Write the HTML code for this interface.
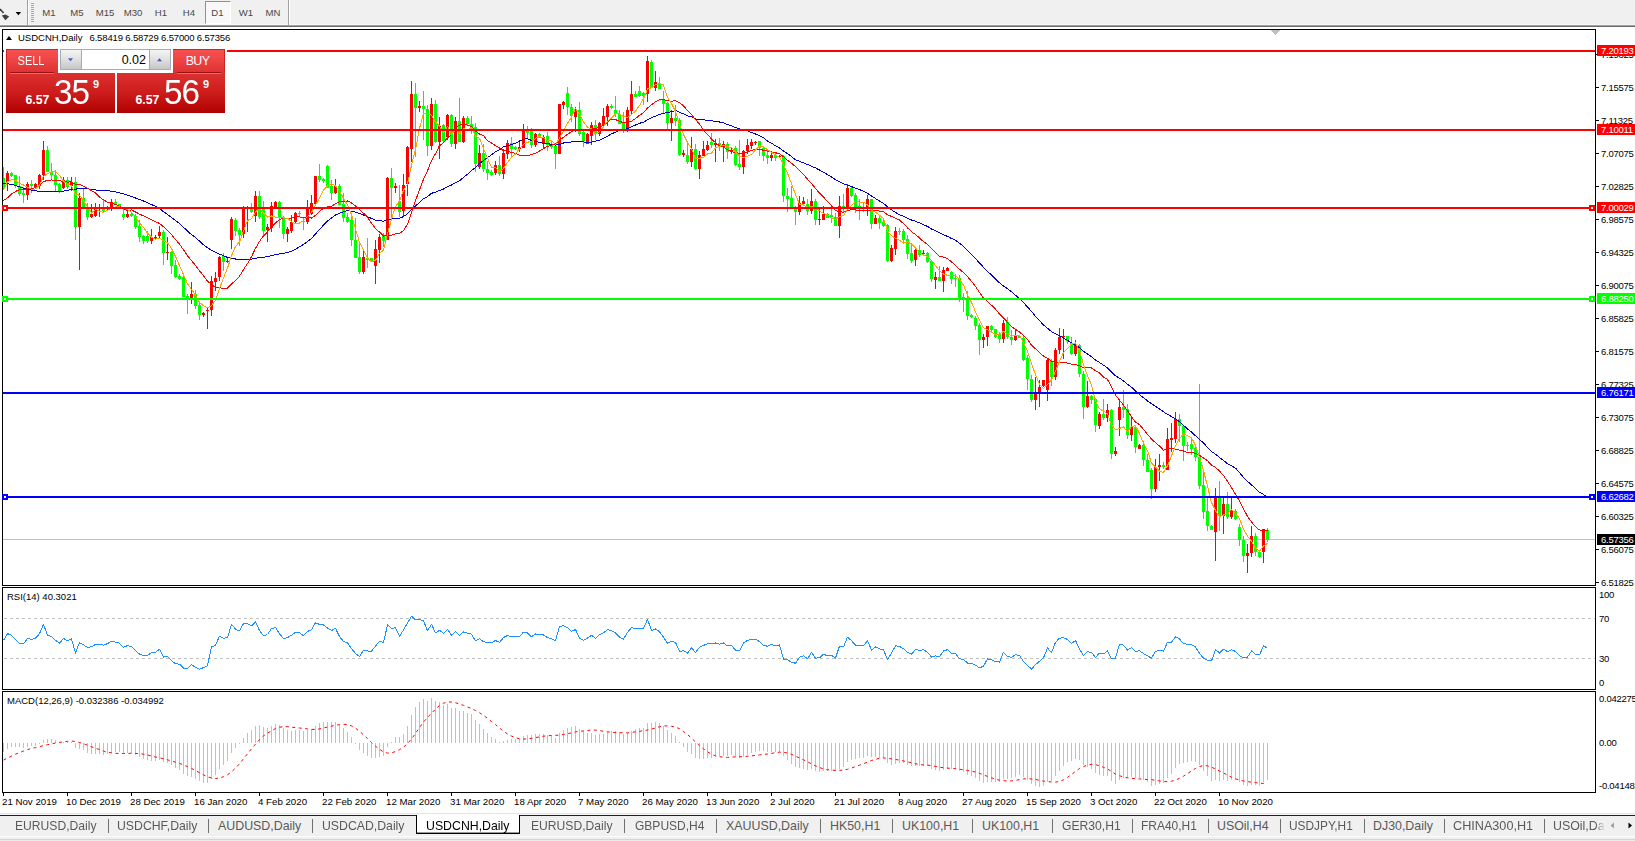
<!DOCTYPE html>
<html><head><meta charset="utf-8"><title>USDCNH,Daily</title>
<style>
html,body{margin:0;padding:0;background:#fff;}
body{width:1635px;height:841px;overflow:hidden;position:relative;font-family:"Liberation Sans", sans-serif;}
.t{position:absolute;white-space:nowrap;line-height:1;font-family:"Liberation Sans", sans-serif;}
.abs{position:absolute;}
</style></head><body>

<div class="abs" style="left:0;top:0;width:1635px;height:25px;background:#f0f0f0"></div>
<div class="abs" style="left:0;top:25px;width:1635px;height:1px;background:#a0a0a0"></div>
<div class="abs" style="left:0;top:26px;width:1635px;height:1px;background:#808080"></div>
<div class="abs" style="left:0;top:813px;width:1635px;height:28px;background:#f0f0f0"></div>
<svg width="1635" height="841" viewBox="0 0 1635 841" style="position:absolute;left:0;top:0"><defs><clipPath id="cm"><rect x="3" y="30" width="1592" height="555"/></clipPath><clipPath id="cr"><rect x="3" y="588" width="1592" height="101"/></clipPath><clipPath id="cd"><rect x="3" y="692" width="1592" height="100"/></clipPath></defs><g shape-rendering="crispEdges"><rect x="3" y="539" width="1592" height="1" fill="#c0c0c0"/><rect x="3" y="50" width="1592" height="2" fill="#ff0000"/><rect x="3" y="129" width="1592" height="2" fill="#ff0000"/><rect x="3" y="207" width="1592" height="2" fill="#ff0000"/><rect x="3" y="298" width="1592" height="2" fill="#00ff00"/><rect x="3" y="392" width="1592" height="2" fill="#0000ff"/><rect x="3" y="496" width="1592" height="2" fill="#0000ff"/></g><g clip-path="url(#cm)" shape-rendering="crispEdges"><rect x="3" y="167" width="1" height="22" fill="#00ff00"/><rect x="2" y="178" width="3" height="10" fill="#00ff00"/><rect x="7" y="171" width="1" height="20" fill="#ff0000"/><rect x="6" y="173" width="3" height="9" fill="#ff0000"/><rect x="11" y="172" width="1" height="5" fill="#00ff00"/><rect x="10" y="173" width="3" height="3" fill="#00ff00"/><rect x="15" y="175" width="1" height="13" fill="#00ff00"/><rect x="14" y="175" width="3" height="10" fill="#00ff00"/><rect x="19" y="176" width="1" height="20" fill="#00ff00"/><rect x="18" y="186" width="3" height="8" fill="#00ff00"/><rect x="23" y="187" width="1" height="16" fill="#00ff00"/><rect x="22" y="193" width="3" height="2" fill="#00ff00"/><rect x="27" y="182" width="1" height="18" fill="#ff0000"/><rect x="26" y="184" width="3" height="11" fill="#ff0000"/><rect x="31" y="180" width="1" height="13" fill="#00ff00"/><rect x="30" y="184" width="3" height="2" fill="#00ff00"/><rect x="35" y="183" width="1" height="5" fill="#ff0000"/><rect x="34" y="184" width="3" height="4" fill="#ff0000"/><rect x="39" y="174" width="1" height="15" fill="#ff0000"/><rect x="38" y="175" width="3" height="10" fill="#ff0000"/><rect x="43" y="141" width="1" height="39" fill="#ff0000"/><rect x="42" y="150" width="3" height="25" fill="#ff0000"/><rect x="47" y="146" width="1" height="26" fill="#00ff00"/><rect x="46" y="150" width="3" height="22" fill="#00ff00"/><rect x="51" y="163" width="1" height="16" fill="#00ff00"/><rect x="50" y="172" width="3" height="3" fill="#00ff00"/><rect x="55" y="170" width="1" height="22" fill="#00ff00"/><rect x="54" y="175" width="3" height="10" fill="#00ff00"/><rect x="59" y="183" width="1" height="10" fill="#00ff00"/><rect x="58" y="184" width="3" height="8" fill="#00ff00"/><rect x="63" y="177" width="1" height="12" fill="#ff0000"/><rect x="62" y="180" width="3" height="8" fill="#ff0000"/><rect x="67" y="177" width="1" height="12" fill="#00ff00"/><rect x="66" y="180" width="3" height="7" fill="#00ff00"/><rect x="71" y="177" width="1" height="14" fill="#ff0000"/><rect x="70" y="182" width="3" height="4" fill="#ff0000"/><rect x="75" y="177" width="1" height="63" fill="#00ff00"/><rect x="74" y="182" width="3" height="45" fill="#00ff00"/><rect x="79" y="193" width="1" height="77" fill="#ff0000"/><rect x="78" y="198" width="3" height="29" fill="#ff0000"/><rect x="83" y="189" width="1" height="18" fill="#00ff00"/><rect x="82" y="198" width="3" height="9" fill="#00ff00"/><rect x="87" y="203" width="1" height="17" fill="#00ff00"/><rect x="86" y="209" width="3" height="8" fill="#00ff00"/><rect x="91" y="204" width="1" height="14" fill="#ff0000"/><rect x="90" y="214" width="3" height="3" fill="#ff0000"/><rect x="95" y="203" width="1" height="14" fill="#ff0000"/><rect x="94" y="209" width="3" height="7" fill="#ff0000"/><rect x="99" y="204" width="1" height="13" fill="#ff0000"/><rect x="98" y="208" width="3" height="1" fill="#ff0000"/><rect x="103" y="200" width="1" height="13" fill="#00ff00"/><rect x="102" y="209" width="3" height="2" fill="#00ff00"/><rect x="107" y="206" width="1" height="4" fill="#ff0000"/><rect x="106" y="208" width="3" height="1" fill="#ff0000"/><rect x="111" y="199" width="1" height="12" fill="#ff0000"/><rect x="110" y="202" width="3" height="6" fill="#ff0000"/><rect x="115" y="199" width="1" height="6" fill="#00ff00"/><rect x="114" y="202" width="3" height="2" fill="#00ff00"/><rect x="119" y="204" width="1" height="5" fill="#00ff00"/><rect x="118" y="204" width="3" height="3" fill="#00ff00"/><rect x="123" y="209" width="1" height="11" fill="#00ff00"/><rect x="122" y="214" width="3" height="3" fill="#00ff00"/><rect x="127" y="210" width="1" height="8" fill="#ff0000"/><rect x="126" y="214" width="3" height="3" fill="#ff0000"/><rect x="131" y="213" width="1" height="4" fill="#00ff00"/><rect x="130" y="214" width="3" height="2" fill="#00ff00"/><rect x="135" y="214" width="1" height="15" fill="#00ff00"/><rect x="134" y="216" width="3" height="11" fill="#00ff00"/><rect x="139" y="220" width="1" height="22" fill="#00ff00"/><rect x="138" y="226" width="3" height="11" fill="#00ff00"/><rect x="143" y="235" width="1" height="9" fill="#00ff00"/><rect x="142" y="236" width="3" height="5" fill="#00ff00"/><rect x="147" y="231" width="1" height="12" fill="#00ff00"/><rect x="146" y="236" width="3" height="5" fill="#00ff00"/><rect x="151" y="229" width="1" height="15" fill="#ff0000"/><rect x="150" y="237" width="3" height="4" fill="#ff0000"/><rect x="155" y="235" width="1" height="4" fill="#ff0000"/><rect x="154" y="237" width="3" height="1" fill="#ff0000"/><rect x="159" y="226" width="1" height="12" fill="#ff0000"/><rect x="158" y="232" width="3" height="4" fill="#ff0000"/><rect x="163" y="230" width="1" height="35" fill="#00ff00"/><rect x="162" y="232" width="3" height="21" fill="#00ff00"/><rect x="167" y="237" width="1" height="23" fill="#ff0000"/><rect x="166" y="252" width="3" height="1" fill="#ff0000"/><rect x="171" y="251" width="1" height="23" fill="#00ff00"/><rect x="170" y="252" width="3" height="14" fill="#00ff00"/><rect x="175" y="260" width="1" height="18" fill="#00ff00"/><rect x="174" y="265" width="3" height="12" fill="#00ff00"/><rect x="179" y="274" width="1" height="6" fill="#00ff00"/><rect x="178" y="276" width="3" height="3" fill="#00ff00"/><rect x="183" y="275" width="1" height="22" fill="#00ff00"/><rect x="182" y="277" width="3" height="20" fill="#00ff00"/><rect x="187" y="294" width="1" height="20" fill="#00ff00"/><rect x="186" y="296" width="3" height="3" fill="#00ff00"/><rect x="191" y="282" width="1" height="22" fill="#ff0000"/><rect x="190" y="294" width="3" height="6" fill="#ff0000"/><rect x="195" y="290" width="1" height="19" fill="#00ff00"/><rect x="194" y="294" width="3" height="12" fill="#00ff00"/><rect x="199" y="303" width="1" height="17" fill="#00ff00"/><rect x="198" y="305" width="3" height="10" fill="#00ff00"/><rect x="203" y="312" width="1" height="5" fill="#ff0000"/><rect x="202" y="313" width="3" height="2" fill="#ff0000"/><rect x="207" y="307" width="1" height="22" fill="#ff0000"/><rect x="206" y="310" width="3" height="1" fill="#ff0000"/><rect x="211" y="276" width="1" height="40" fill="#ff0000"/><rect x="210" y="281" width="3" height="29" fill="#ff0000"/><rect x="215" y="272" width="1" height="19" fill="#ff0000"/><rect x="214" y="278" width="3" height="4" fill="#ff0000"/><rect x="219" y="256" width="1" height="25" fill="#ff0000"/><rect x="218" y="257" width="3" height="20" fill="#ff0000"/><rect x="223" y="253" width="1" height="18" fill="#00ff00"/><rect x="222" y="256" width="3" height="6" fill="#00ff00"/><rect x="227" y="258" width="1" height="5" fill="#ff0000"/><rect x="226" y="261" width="3" height="1" fill="#ff0000"/><rect x="231" y="217" width="1" height="32" fill="#ff0000"/><rect x="230" y="219" width="3" height="21" fill="#ff0000"/><rect x="235" y="218" width="1" height="18" fill="#00ff00"/><rect x="234" y="220" width="3" height="11" fill="#00ff00"/><rect x="239" y="228" width="1" height="18" fill="#00ff00"/><rect x="238" y="230" width="3" height="5" fill="#00ff00"/><rect x="243" y="206" width="1" height="32" fill="#ff0000"/><rect x="242" y="207" width="3" height="27" fill="#ff0000"/><rect x="247" y="206" width="1" height="26" fill="#ff0000"/><rect x="246" y="208" width="3" height="1" fill="#ff0000"/><rect x="251" y="203" width="1" height="10" fill="#00ff00"/><rect x="250" y="209" width="3" height="3" fill="#00ff00"/><rect x="255" y="191" width="1" height="31" fill="#ff0000"/><rect x="254" y="196" width="3" height="20" fill="#ff0000"/><rect x="259" y="191" width="1" height="28" fill="#00ff00"/><rect x="258" y="196" width="3" height="21" fill="#00ff00"/><rect x="263" y="201" width="1" height="34" fill="#00ff00"/><rect x="262" y="208" width="3" height="23" fill="#00ff00"/><rect x="267" y="224" width="1" height="18" fill="#ff0000"/><rect x="266" y="227" width="3" height="3" fill="#ff0000"/><rect x="271" y="202" width="1" height="30" fill="#ff0000"/><rect x="270" y="206" width="3" height="22" fill="#ff0000"/><rect x="275" y="201" width="1" height="7" fill="#ff0000"/><rect x="274" y="202" width="3" height="5" fill="#ff0000"/><rect x="279" y="201" width="1" height="27" fill="#00ff00"/><rect x="278" y="202" width="3" height="16" fill="#00ff00"/><rect x="283" y="216" width="1" height="23" fill="#00ff00"/><rect x="282" y="217" width="3" height="17" fill="#00ff00"/><rect x="287" y="227" width="1" height="15" fill="#ff0000"/><rect x="286" y="229" width="3" height="5" fill="#ff0000"/><rect x="291" y="215" width="1" height="18" fill="#ff0000"/><rect x="290" y="222" width="3" height="9" fill="#ff0000"/><rect x="295" y="212" width="1" height="11" fill="#ff0000"/><rect x="294" y="213" width="3" height="9" fill="#ff0000"/><rect x="299" y="211" width="1" height="5" fill="#00ff00"/><rect x="298" y="213" width="3" height="1" fill="#00ff00"/><rect x="303" y="218" width="1" height="12" fill="#00ff00"/><rect x="302" y="221" width="3" height="1" fill="#00ff00"/><rect x="307" y="200" width="1" height="24" fill="#ff0000"/><rect x="306" y="208" width="3" height="14" fill="#ff0000"/><rect x="311" y="195" width="1" height="20" fill="#ff0000"/><rect x="310" y="203" width="3" height="11" fill="#ff0000"/><rect x="315" y="176" width="1" height="29" fill="#ff0000"/><rect x="314" y="176" width="3" height="28" fill="#ff0000"/><rect x="319" y="164" width="1" height="18" fill="#00ff00"/><rect x="318" y="176" width="3" height="4" fill="#00ff00"/><rect x="323" y="178" width="1" height="5" fill="#00ff00"/><rect x="322" y="179" width="3" height="2" fill="#00ff00"/><rect x="327" y="165" width="1" height="23" fill="#00ff00"/><rect x="326" y="166" width="3" height="22" fill="#00ff00"/><rect x="331" y="180" width="1" height="20" fill="#00ff00"/><rect x="330" y="186" width="3" height="7" fill="#00ff00"/><rect x="335" y="179" width="1" height="15" fill="#ff0000"/><rect x="334" y="186" width="3" height="7" fill="#ff0000"/><rect x="339" y="184" width="1" height="21" fill="#00ff00"/><rect x="338" y="186" width="3" height="19" fill="#00ff00"/><rect x="343" y="193" width="1" height="29" fill="#00ff00"/><rect x="342" y="204" width="3" height="14" fill="#00ff00"/><rect x="347" y="213" width="1" height="10" fill="#00ff00"/><rect x="346" y="217" width="3" height="5" fill="#00ff00"/><rect x="351" y="216" width="1" height="30" fill="#00ff00"/><rect x="350" y="220" width="3" height="20" fill="#00ff00"/><rect x="355" y="218" width="1" height="40" fill="#00ff00"/><rect x="354" y="240" width="3" height="18" fill="#00ff00"/><rect x="359" y="244" width="1" height="30" fill="#00ff00"/><rect x="358" y="257" width="3" height="15" fill="#00ff00"/><rect x="363" y="251" width="1" height="23" fill="#ff0000"/><rect x="362" y="257" width="3" height="15" fill="#ff0000"/><rect x="367" y="238" width="1" height="30" fill="#00ff00"/><rect x="366" y="258" width="3" height="2" fill="#00ff00"/><rect x="371" y="258" width="1" height="4" fill="#00ff00"/><rect x="370" y="258" width="3" height="3" fill="#00ff00"/><rect x="375" y="240" width="1" height="44" fill="#ff0000"/><rect x="374" y="249" width="3" height="17" fill="#ff0000"/><rect x="379" y="234" width="1" height="29" fill="#ff0000"/><rect x="378" y="237" width="3" height="13" fill="#ff0000"/><rect x="383" y="233" width="1" height="14" fill="#00ff00"/><rect x="382" y="236" width="3" height="5" fill="#00ff00"/><rect x="387" y="177" width="1" height="63" fill="#ff0000"/><rect x="386" y="178" width="3" height="62" fill="#ff0000"/><rect x="391" y="168" width="1" height="49" fill="#00ff00"/><rect x="390" y="178" width="3" height="10" fill="#00ff00"/><rect x="395" y="183" width="1" height="10" fill="#ff0000"/><rect x="394" y="186" width="3" height="2" fill="#ff0000"/><rect x="399" y="185" width="1" height="32" fill="#00ff00"/><rect x="398" y="201" width="3" height="11" fill="#00ff00"/><rect x="403" y="174" width="1" height="42" fill="#ff0000"/><rect x="402" y="185" width="3" height="26" fill="#ff0000"/><rect x="407" y="146" width="1" height="50" fill="#ff0000"/><rect x="406" y="147" width="3" height="37" fill="#ff0000"/><rect x="411" y="81" width="1" height="81" fill="#ff0000"/><rect x="410" y="94" width="3" height="55" fill="#ff0000"/><rect x="415" y="83" width="1" height="74" fill="#00ff00"/><rect x="414" y="94" width="3" height="14" fill="#00ff00"/><rect x="419" y="101" width="1" height="11" fill="#ff0000"/><rect x="418" y="106" width="3" height="2" fill="#ff0000"/><rect x="423" y="91" width="1" height="49" fill="#00ff00"/><rect x="422" y="106" width="3" height="3" fill="#00ff00"/><rect x="427" y="105" width="1" height="51" fill="#00ff00"/><rect x="426" y="109" width="3" height="37" fill="#00ff00"/><rect x="431" y="98" width="1" height="52" fill="#ff0000"/><rect x="430" y="104" width="3" height="42" fill="#ff0000"/><rect x="435" y="100" width="1" height="43" fill="#00ff00"/><rect x="434" y="104" width="3" height="38" fill="#00ff00"/><rect x="439" y="117" width="1" height="42" fill="#ff0000"/><rect x="438" y="126" width="3" height="16" fill="#ff0000"/><rect x="443" y="124" width="1" height="18" fill="#00ff00"/><rect x="442" y="125" width="3" height="16" fill="#00ff00"/><rect x="447" y="114" width="1" height="26" fill="#ff0000"/><rect x="446" y="115" width="3" height="22" fill="#ff0000"/><rect x="451" y="114" width="1" height="33" fill="#00ff00"/><rect x="450" y="115" width="3" height="29" fill="#00ff00"/><rect x="455" y="117" width="1" height="32" fill="#ff0000"/><rect x="454" y="121" width="3" height="23" fill="#ff0000"/><rect x="459" y="98" width="1" height="44" fill="#00ff00"/><rect x="458" y="121" width="3" height="21" fill="#00ff00"/><rect x="463" y="116" width="1" height="27" fill="#ff0000"/><rect x="462" y="118" width="3" height="24" fill="#ff0000"/><rect x="467" y="116" width="1" height="9" fill="#00ff00"/><rect x="466" y="118" width="3" height="6" fill="#00ff00"/><rect x="471" y="116" width="1" height="18" fill="#00ff00"/><rect x="470" y="124" width="3" height="5" fill="#00ff00"/><rect x="475" y="123" width="1" height="49" fill="#00ff00"/><rect x="474" y="127" width="3" height="37" fill="#00ff00"/><rect x="479" y="145" width="1" height="24" fill="#ff0000"/><rect x="478" y="153" width="3" height="14" fill="#ff0000"/><rect x="483" y="144" width="1" height="28" fill="#00ff00"/><rect x="482" y="153" width="3" height="16" fill="#00ff00"/><rect x="487" y="161" width="1" height="19" fill="#00ff00"/><rect x="486" y="169" width="3" height="4" fill="#00ff00"/><rect x="491" y="170" width="1" height="6" fill="#00ff00"/><rect x="490" y="172" width="3" height="3" fill="#00ff00"/><rect x="495" y="161" width="1" height="14" fill="#ff0000"/><rect x="494" y="165" width="3" height="8" fill="#ff0000"/><rect x="499" y="156" width="1" height="20" fill="#00ff00"/><rect x="498" y="165" width="3" height="9" fill="#00ff00"/><rect x="503" y="149" width="1" height="30" fill="#ff0000"/><rect x="502" y="153" width="3" height="21" fill="#ff0000"/><rect x="507" y="140" width="1" height="19" fill="#ff0000"/><rect x="506" y="143" width="3" height="11" fill="#ff0000"/><rect x="511" y="137" width="1" height="19" fill="#00ff00"/><rect x="510" y="143" width="3" height="6" fill="#00ff00"/><rect x="515" y="146" width="1" height="4" fill="#00ff00"/><rect x="514" y="147" width="3" height="2" fill="#00ff00"/><rect x="519" y="140" width="1" height="12" fill="#ff0000"/><rect x="518" y="147" width="3" height="2" fill="#ff0000"/><rect x="523" y="124" width="1" height="24" fill="#ff0000"/><rect x="522" y="130" width="3" height="18" fill="#ff0000"/><rect x="527" y="126" width="1" height="13" fill="#00ff00"/><rect x="526" y="130" width="3" height="3" fill="#00ff00"/><rect x="531" y="128" width="1" height="20" fill="#00ff00"/><rect x="530" y="130" width="3" height="15" fill="#00ff00"/><rect x="535" y="133" width="1" height="14" fill="#ff0000"/><rect x="534" y="134" width="3" height="11" fill="#ff0000"/><rect x="539" y="133" width="1" height="5" fill="#00ff00"/><rect x="538" y="134" width="3" height="4" fill="#00ff00"/><rect x="543" y="135" width="1" height="14" fill="#ff0000"/><rect x="542" y="137" width="3" height="6" fill="#ff0000"/><rect x="547" y="132" width="1" height="19" fill="#00ff00"/><rect x="546" y="136" width="3" height="9" fill="#00ff00"/><rect x="551" y="142" width="1" height="7" fill="#00ff00"/><rect x="550" y="144" width="3" height="3" fill="#00ff00"/><rect x="555" y="143" width="1" height="26" fill="#00ff00"/><rect x="554" y="146" width="3" height="8" fill="#00ff00"/><rect x="559" y="104" width="1" height="50" fill="#ff0000"/><rect x="558" y="104" width="3" height="50" fill="#ff0000"/><rect x="563" y="101" width="1" height="8" fill="#ff0000"/><rect x="562" y="102" width="3" height="3" fill="#ff0000"/><rect x="567" y="87" width="1" height="28" fill="#00ff00"/><rect x="566" y="93" width="3" height="14" fill="#00ff00"/><rect x="571" y="104" width="1" height="18" fill="#00ff00"/><rect x="570" y="107" width="3" height="9" fill="#00ff00"/><rect x="575" y="107" width="1" height="25" fill="#ff0000"/><rect x="574" y="109" width="3" height="8" fill="#ff0000"/><rect x="579" y="102" width="1" height="34" fill="#00ff00"/><rect x="578" y="110" width="3" height="24" fill="#00ff00"/><rect x="583" y="131" width="1" height="16" fill="#00ff00"/><rect x="582" y="132" width="3" height="9" fill="#00ff00"/><rect x="587" y="133" width="1" height="11" fill="#ff0000"/><rect x="586" y="134" width="3" height="10" fill="#ff0000"/><rect x="591" y="122" width="1" height="23" fill="#ff0000"/><rect x="590" y="125" width="3" height="11" fill="#ff0000"/><rect x="595" y="120" width="1" height="20" fill="#00ff00"/><rect x="594" y="125" width="3" height="9" fill="#00ff00"/><rect x="599" y="122" width="1" height="14" fill="#ff0000"/><rect x="598" y="123" width="3" height="11" fill="#ff0000"/><rect x="603" y="108" width="1" height="18" fill="#ff0000"/><rect x="602" y="116" width="3" height="9" fill="#ff0000"/><rect x="607" y="104" width="1" height="22" fill="#ff0000"/><rect x="606" y="106" width="3" height="11" fill="#ff0000"/><rect x="611" y="104" width="1" height="5" fill="#00ff00"/><rect x="610" y="106" width="3" height="2" fill="#00ff00"/><rect x="615" y="96" width="1" height="21" fill="#00ff00"/><rect x="614" y="110" width="3" height="4" fill="#00ff00"/><rect x="619" y="110" width="1" height="14" fill="#00ff00"/><rect x="618" y="114" width="3" height="10" fill="#00ff00"/><rect x="623" y="112" width="1" height="21" fill="#00ff00"/><rect x="622" y="123" width="3" height="6" fill="#00ff00"/><rect x="627" y="107" width="1" height="25" fill="#ff0000"/><rect x="626" y="110" width="3" height="19" fill="#ff0000"/><rect x="631" y="81" width="1" height="33" fill="#ff0000"/><rect x="630" y="94" width="3" height="17" fill="#ff0000"/><rect x="635" y="91" width="1" height="6" fill="#00ff00"/><rect x="634" y="94" width="3" height="3" fill="#00ff00"/><rect x="639" y="86" width="1" height="11" fill="#00ff00"/><rect x="638" y="91" width="3" height="5" fill="#00ff00"/><rect x="643" y="92" width="1" height="13" fill="#00ff00"/><rect x="642" y="93" width="3" height="3" fill="#00ff00"/><rect x="647" y="56" width="1" height="46" fill="#ff0000"/><rect x="646" y="61" width="3" height="33" fill="#ff0000"/><rect x="651" y="60" width="1" height="28" fill="#00ff00"/><rect x="650" y="62" width="3" height="26" fill="#00ff00"/><rect x="655" y="71" width="1" height="20" fill="#ff0000"/><rect x="654" y="82" width="3" height="6" fill="#ff0000"/><rect x="659" y="77" width="1" height="12" fill="#00ff00"/><rect x="658" y="83" width="3" height="6" fill="#00ff00"/><rect x="663" y="91" width="1" height="22" fill="#00ff00"/><rect x="662" y="100" width="3" height="4" fill="#00ff00"/><rect x="667" y="102" width="1" height="27" fill="#00ff00"/><rect x="666" y="103" width="3" height="20" fill="#00ff00"/><rect x="671" y="110" width="1" height="31" fill="#ff0000"/><rect x="670" y="118" width="3" height="5" fill="#ff0000"/><rect x="675" y="105" width="1" height="21" fill="#00ff00"/><rect x="674" y="118" width="3" height="3" fill="#00ff00"/><rect x="679" y="118" width="1" height="38" fill="#00ff00"/><rect x="678" y="120" width="3" height="35" fill="#00ff00"/><rect x="683" y="150" width="1" height="7" fill="#ff0000"/><rect x="682" y="153" width="3" height="2" fill="#ff0000"/><rect x="687" y="142" width="1" height="22" fill="#00ff00"/><rect x="686" y="155" width="3" height="7" fill="#00ff00"/><rect x="691" y="137" width="1" height="30" fill="#ff0000"/><rect x="690" y="149" width="3" height="13" fill="#ff0000"/><rect x="695" y="144" width="1" height="26" fill="#00ff00"/><rect x="694" y="149" width="3" height="20" fill="#00ff00"/><rect x="699" y="151" width="1" height="28" fill="#ff0000"/><rect x="698" y="155" width="3" height="14" fill="#ff0000"/><rect x="703" y="141" width="1" height="15" fill="#ff0000"/><rect x="702" y="149" width="3" height="7" fill="#ff0000"/><rect x="707" y="141" width="1" height="10" fill="#ff0000"/><rect x="706" y="145" width="3" height="5" fill="#ff0000"/><rect x="711" y="133" width="1" height="15" fill="#00ff00"/><rect x="710" y="142" width="3" height="3" fill="#00ff00"/><rect x="715" y="139" width="1" height="23" fill="#ff0000"/><rect x="714" y="143" width="3" height="2" fill="#ff0000"/><rect x="719" y="138" width="1" height="13" fill="#00ff00"/><rect x="718" y="143" width="3" height="4" fill="#00ff00"/><rect x="723" y="141" width="1" height="21" fill="#ff0000"/><rect x="722" y="144" width="3" height="3" fill="#ff0000"/><rect x="727" y="142" width="1" height="17" fill="#00ff00"/><rect x="726" y="144" width="3" height="8" fill="#00ff00"/><rect x="731" y="148" width="1" height="6" fill="#ff0000"/><rect x="730" y="150" width="3" height="2" fill="#ff0000"/><rect x="735" y="146" width="1" height="20" fill="#00ff00"/><rect x="734" y="148" width="3" height="17" fill="#00ff00"/><rect x="739" y="140" width="1" height="30" fill="#00ff00"/><rect x="738" y="164" width="3" height="3" fill="#00ff00"/><rect x="743" y="150" width="1" height="24" fill="#ff0000"/><rect x="742" y="151" width="3" height="16" fill="#ff0000"/><rect x="747" y="139" width="1" height="15" fill="#ff0000"/><rect x="746" y="145" width="3" height="6" fill="#ff0000"/><rect x="751" y="139" width="1" height="10" fill="#ff0000"/><rect x="750" y="142" width="3" height="4" fill="#ff0000"/><rect x="755" y="141" width="1" height="4" fill="#ff0000"/><rect x="754" y="142" width="3" height="1" fill="#ff0000"/><rect x="759" y="141" width="1" height="15" fill="#00ff00"/><rect x="758" y="141" width="3" height="7" fill="#00ff00"/><rect x="763" y="146" width="1" height="15" fill="#00ff00"/><rect x="762" y="148" width="3" height="8" fill="#00ff00"/><rect x="767" y="149" width="1" height="15" fill="#00ff00"/><rect x="766" y="155" width="3" height="3" fill="#00ff00"/><rect x="771" y="153" width="1" height="8" fill="#ff0000"/><rect x="770" y="155" width="3" height="3" fill="#ff0000"/><rect x="775" y="153" width="1" height="8" fill="#00ff00"/><rect x="774" y="155" width="3" height="3" fill="#00ff00"/><rect x="779" y="155" width="1" height="3" fill="#ff0000"/><rect x="778" y="156" width="3" height="1" fill="#ff0000"/><rect x="783" y="155" width="1" height="47" fill="#00ff00"/><rect x="782" y="156" width="3" height="40" fill="#00ff00"/><rect x="787" y="188" width="1" height="24" fill="#00ff00"/><rect x="786" y="196" width="3" height="3" fill="#00ff00"/><rect x="791" y="186" width="1" height="22" fill="#00ff00"/><rect x="790" y="198" width="3" height="9" fill="#00ff00"/><rect x="795" y="206" width="1" height="19" fill="#00ff00"/><rect x="794" y="209" width="3" height="3" fill="#00ff00"/><rect x="799" y="196" width="1" height="19" fill="#ff0000"/><rect x="798" y="203" width="3" height="9" fill="#ff0000"/><rect x="803" y="197" width="1" height="8" fill="#ff0000"/><rect x="802" y="201" width="3" height="3" fill="#ff0000"/><rect x="807" y="199" width="1" height="16" fill="#00ff00"/><rect x="806" y="204" width="3" height="7" fill="#00ff00"/><rect x="811" y="189" width="1" height="25" fill="#ff0000"/><rect x="810" y="201" width="3" height="10" fill="#ff0000"/><rect x="815" y="199" width="1" height="26" fill="#00ff00"/><rect x="814" y="201" width="3" height="19" fill="#00ff00"/><rect x="819" y="208" width="1" height="17" fill="#ff0000"/><rect x="818" y="219" width="3" height="1" fill="#ff0000"/><rect x="823" y="206" width="1" height="14" fill="#ff0000"/><rect x="822" y="214" width="3" height="6" fill="#ff0000"/><rect x="827" y="213" width="1" height="5" fill="#00ff00"/><rect x="826" y="214" width="3" height="4" fill="#00ff00"/><rect x="831" y="209" width="1" height="14" fill="#00ff00"/><rect x="830" y="215" width="3" height="2" fill="#00ff00"/><rect x="835" y="213" width="1" height="13" fill="#00ff00"/><rect x="834" y="217" width="3" height="9" fill="#00ff00"/><rect x="839" y="196" width="1" height="42" fill="#ff0000"/><rect x="838" y="206" width="3" height="20" fill="#ff0000"/><rect x="843" y="194" width="1" height="18" fill="#00ff00"/><rect x="842" y="206" width="3" height="2" fill="#00ff00"/><rect x="847" y="184" width="1" height="27" fill="#ff0000"/><rect x="846" y="188" width="3" height="20" fill="#ff0000"/><rect x="851" y="187" width="1" height="10" fill="#00ff00"/><rect x="850" y="188" width="3" height="8" fill="#00ff00"/><rect x="855" y="193" width="1" height="20" fill="#00ff00"/><rect x="854" y="195" width="3" height="13" fill="#00ff00"/><rect x="859" y="199" width="1" height="21" fill="#00ff00"/><rect x="858" y="206" width="3" height="3" fill="#00ff00"/><rect x="863" y="202" width="1" height="10" fill="#00ff00"/><rect x="862" y="207" width="3" height="2" fill="#00ff00"/><rect x="867" y="195" width="1" height="21" fill="#ff0000"/><rect x="866" y="199" width="3" height="9" fill="#ff0000"/><rect x="871" y="199" width="1" height="30" fill="#00ff00"/><rect x="870" y="199" width="3" height="25" fill="#00ff00"/><rect x="875" y="215" width="1" height="9" fill="#ff0000"/><rect x="874" y="218" width="3" height="6" fill="#ff0000"/><rect x="879" y="215" width="1" height="14" fill="#00ff00"/><rect x="878" y="218" width="3" height="5" fill="#00ff00"/><rect x="883" y="219" width="1" height="8" fill="#00ff00"/><rect x="882" y="222" width="3" height="4" fill="#00ff00"/><rect x="887" y="224" width="1" height="38" fill="#00ff00"/><rect x="886" y="225" width="3" height="36" fill="#00ff00"/><rect x="891" y="245" width="1" height="17" fill="#ff0000"/><rect x="890" y="248" width="3" height="13" fill="#ff0000"/><rect x="895" y="227" width="1" height="28" fill="#ff0000"/><rect x="894" y="231" width="3" height="18" fill="#ff0000"/><rect x="899" y="228" width="1" height="7" fill="#00ff00"/><rect x="898" y="231" width="3" height="1" fill="#00ff00"/><rect x="903" y="229" width="1" height="13" fill="#00ff00"/><rect x="902" y="231" width="3" height="9" fill="#00ff00"/><rect x="907" y="235" width="1" height="24" fill="#00ff00"/><rect x="906" y="239" width="3" height="15" fill="#00ff00"/><rect x="911" y="243" width="1" height="20" fill="#00ff00"/><rect x="910" y="253" width="3" height="8" fill="#00ff00"/><rect x="915" y="249" width="1" height="17" fill="#ff0000"/><rect x="914" y="250" width="3" height="10" fill="#ff0000"/><rect x="919" y="245" width="1" height="12" fill="#00ff00"/><rect x="918" y="250" width="3" height="5" fill="#00ff00"/><rect x="923" y="250" width="1" height="6" fill="#ff0000"/><rect x="922" y="253" width="3" height="1" fill="#ff0000"/><rect x="927" y="252" width="1" height="11" fill="#00ff00"/><rect x="926" y="253" width="3" height="9" fill="#00ff00"/><rect x="931" y="260" width="1" height="22" fill="#00ff00"/><rect x="930" y="261" width="3" height="18" fill="#00ff00"/><rect x="935" y="272" width="1" height="17" fill="#ff0000"/><rect x="934" y="277" width="3" height="3" fill="#ff0000"/><rect x="939" y="266" width="1" height="15" fill="#00ff00"/><rect x="938" y="277" width="3" height="4" fill="#00ff00"/><rect x="943" y="267" width="1" height="25" fill="#ff0000"/><rect x="942" y="270" width="3" height="11" fill="#ff0000"/><rect x="947" y="267" width="1" height="4" fill="#ff0000"/><rect x="946" y="268" width="3" height="3" fill="#ff0000"/><rect x="951" y="271" width="1" height="13" fill="#00ff00"/><rect x="950" y="272" width="3" height="7" fill="#00ff00"/><rect x="955" y="274" width="1" height="13" fill="#00ff00"/><rect x="954" y="278" width="3" height="1" fill="#00ff00"/><rect x="959" y="275" width="1" height="27" fill="#00ff00"/><rect x="958" y="278" width="3" height="20" fill="#00ff00"/><rect x="963" y="293" width="1" height="19" fill="#00ff00"/><rect x="962" y="297" width="3" height="3" fill="#00ff00"/><rect x="967" y="291" width="1" height="29" fill="#00ff00"/><rect x="966" y="298" width="3" height="18" fill="#00ff00"/><rect x="971" y="314" width="1" height="4" fill="#00ff00"/><rect x="970" y="315" width="3" height="2" fill="#00ff00"/><rect x="975" y="316" width="1" height="14" fill="#00ff00"/><rect x="974" y="318" width="3" height="8" fill="#00ff00"/><rect x="979" y="323" width="1" height="32" fill="#00ff00"/><rect x="978" y="325" width="3" height="15" fill="#00ff00"/><rect x="983" y="334" width="1" height="14" fill="#ff0000"/><rect x="982" y="337" width="3" height="3" fill="#ff0000"/><rect x="987" y="326" width="1" height="20" fill="#ff0000"/><rect x="986" y="326" width="3" height="11" fill="#ff0000"/><rect x="991" y="325" width="1" height="8" fill="#00ff00"/><rect x="990" y="326" width="3" height="4" fill="#00ff00"/><rect x="995" y="329" width="1" height="9" fill="#00ff00"/><rect x="994" y="329" width="3" height="8" fill="#00ff00"/><rect x="999" y="332" width="1" height="11" fill="#00ff00"/><rect x="998" y="334" width="3" height="5" fill="#00ff00"/><rect x="1003" y="320" width="1" height="23" fill="#ff0000"/><rect x="1002" y="323" width="3" height="16" fill="#ff0000"/><rect x="1007" y="317" width="1" height="22" fill="#00ff00"/><rect x="1006" y="322" width="3" height="15" fill="#00ff00"/><rect x="1011" y="330" width="1" height="15" fill="#00ff00"/><rect x="1010" y="337" width="3" height="3" fill="#00ff00"/><rect x="1015" y="329" width="1" height="12" fill="#ff0000"/><rect x="1014" y="336" width="3" height="4" fill="#ff0000"/><rect x="1019" y="336" width="1" height="2" fill="#00ff00"/><rect x="1018" y="336" width="3" height="2" fill="#00ff00"/><rect x="1023" y="336" width="1" height="25" fill="#00ff00"/><rect x="1022" y="338" width="3" height="22" fill="#00ff00"/><rect x="1027" y="355" width="1" height="35" fill="#00ff00"/><rect x="1026" y="358" width="3" height="21" fill="#00ff00"/><rect x="1031" y="375" width="1" height="27" fill="#00ff00"/><rect x="1030" y="379" width="3" height="21" fill="#00ff00"/><rect x="1035" y="377" width="1" height="33" fill="#ff0000"/><rect x="1034" y="393" width="3" height="7" fill="#ff0000"/><rect x="1039" y="380" width="1" height="27" fill="#ff0000"/><rect x="1038" y="387" width="3" height="5" fill="#ff0000"/><rect x="1043" y="380" width="1" height="7" fill="#ff0000"/><rect x="1042" y="380" width="3" height="6" fill="#ff0000"/><rect x="1047" y="358" width="1" height="43" fill="#ff0000"/><rect x="1046" y="360" width="3" height="30" fill="#ff0000"/><rect x="1051" y="359" width="1" height="27" fill="#00ff00"/><rect x="1050" y="361" width="3" height="16" fill="#00ff00"/><rect x="1055" y="348" width="1" height="32" fill="#ff0000"/><rect x="1054" y="350" width="3" height="27" fill="#ff0000"/><rect x="1059" y="328" width="1" height="26" fill="#ff0000"/><rect x="1058" y="337" width="3" height="13" fill="#ff0000"/><rect x="1063" y="329" width="1" height="30" fill="#ff0000"/><rect x="1062" y="336" width="3" height="1" fill="#ff0000"/><rect x="1067" y="336" width="1" height="8" fill="#00ff00"/><rect x="1066" y="336" width="3" height="5" fill="#00ff00"/><rect x="1071" y="337" width="1" height="18" fill="#00ff00"/><rect x="1070" y="343" width="3" height="11" fill="#00ff00"/><rect x="1075" y="340" width="1" height="16" fill="#ff0000"/><rect x="1074" y="345" width="3" height="9" fill="#ff0000"/><rect x="1079" y="344" width="1" height="33" fill="#00ff00"/><rect x="1078" y="345" width="3" height="29" fill="#00ff00"/><rect x="1083" y="371" width="1" height="48" fill="#00ff00"/><rect x="1082" y="374" width="3" height="33" fill="#00ff00"/><rect x="1087" y="381" width="1" height="27" fill="#ff0000"/><rect x="1086" y="396" width="3" height="11" fill="#ff0000"/><rect x="1091" y="395" width="1" height="9" fill="#00ff00"/><rect x="1090" y="396" width="3" height="4" fill="#00ff00"/><rect x="1095" y="398" width="1" height="34" fill="#00ff00"/><rect x="1094" y="399" width="3" height="26" fill="#00ff00"/><rect x="1099" y="412" width="1" height="17" fill="#ff0000"/><rect x="1098" y="414" width="3" height="12" fill="#ff0000"/><rect x="1103" y="399" width="1" height="21" fill="#00ff00"/><rect x="1102" y="414" width="3" height="4" fill="#00ff00"/><rect x="1107" y="404" width="1" height="18" fill="#ff0000"/><rect x="1106" y="410" width="3" height="8" fill="#ff0000"/><rect x="1111" y="409" width="1" height="50" fill="#00ff00"/><rect x="1110" y="410" width="3" height="44" fill="#00ff00"/><rect x="1115" y="447" width="1" height="9" fill="#ff0000"/><rect x="1114" y="451" width="3" height="3" fill="#ff0000"/><rect x="1119" y="399" width="1" height="37" fill="#ff0000"/><rect x="1118" y="407" width="3" height="13" fill="#ff0000"/><rect x="1123" y="390" width="1" height="28" fill="#00ff00"/><rect x="1122" y="407" width="3" height="3" fill="#00ff00"/><rect x="1127" y="404" width="1" height="35" fill="#00ff00"/><rect x="1126" y="409" width="3" height="26" fill="#00ff00"/><rect x="1131" y="417" width="1" height="24" fill="#ff0000"/><rect x="1130" y="427" width="3" height="8" fill="#ff0000"/><rect x="1135" y="426" width="1" height="27" fill="#00ff00"/><rect x="1134" y="427" width="3" height="20" fill="#00ff00"/><rect x="1139" y="444" width="1" height="5" fill="#ff0000"/><rect x="1138" y="445" width="3" height="4" fill="#ff0000"/><rect x="1143" y="441" width="1" height="25" fill="#00ff00"/><rect x="1142" y="445" width="3" height="15" fill="#00ff00"/><rect x="1147" y="454" width="1" height="18" fill="#00ff00"/><rect x="1146" y="460" width="3" height="12" fill="#00ff00"/><rect x="1151" y="468" width="1" height="31" fill="#00ff00"/><rect x="1150" y="470" width="3" height="19" fill="#00ff00"/><rect x="1155" y="459" width="1" height="33" fill="#ff0000"/><rect x="1154" y="467" width="3" height="22" fill="#ff0000"/><rect x="1159" y="454" width="1" height="27" fill="#ff0000"/><rect x="1158" y="465" width="3" height="2" fill="#ff0000"/><rect x="1163" y="462" width="1" height="7" fill="#00ff00"/><rect x="1162" y="465" width="3" height="2" fill="#00ff00"/><rect x="1167" y="428" width="1" height="42" fill="#ff0000"/><rect x="1166" y="439" width="3" height="31" fill="#ff0000"/><rect x="1171" y="423" width="1" height="29" fill="#ff0000"/><rect x="1170" y="438" width="3" height="2" fill="#ff0000"/><rect x="1175" y="412" width="1" height="31" fill="#ff0000"/><rect x="1174" y="419" width="3" height="20" fill="#ff0000"/><rect x="1179" y="414" width="1" height="28" fill="#00ff00"/><rect x="1178" y="419" width="3" height="7" fill="#00ff00"/><rect x="1183" y="426" width="1" height="35" fill="#00ff00"/><rect x="1182" y="426" width="3" height="20" fill="#00ff00"/><rect x="1187" y="442" width="1" height="9" fill="#00ff00"/><rect x="1186" y="445" width="3" height="1" fill="#00ff00"/><rect x="1191" y="439" width="1" height="16" fill="#00ff00"/><rect x="1190" y="444" width="3" height="5" fill="#00ff00"/><rect x="1195" y="445" width="1" height="16" fill="#00ff00"/><rect x="1194" y="448" width="3" height="9" fill="#00ff00"/><rect x="1199" y="384" width="1" height="105" fill="#00ff00"/><rect x="1198" y="457" width="3" height="29" fill="#00ff00"/><rect x="1203" y="472" width="1" height="47" fill="#00ff00"/><rect x="1202" y="485" width="3" height="27" fill="#00ff00"/><rect x="1207" y="497" width="1" height="34" fill="#00ff00"/><rect x="1206" y="511" width="3" height="15" fill="#00ff00"/><rect x="1211" y="525" width="1" height="5" fill="#00ff00"/><rect x="1210" y="526" width="3" height="4" fill="#00ff00"/><rect x="1215" y="488" width="1" height="73" fill="#ff0000"/><rect x="1214" y="498" width="3" height="34" fill="#ff0000"/><rect x="1219" y="481" width="1" height="50" fill="#00ff00"/><rect x="1218" y="498" width="3" height="18" fill="#00ff00"/><rect x="1223" y="498" width="1" height="36" fill="#ff0000"/><rect x="1222" y="504" width="3" height="12" fill="#ff0000"/><rect x="1227" y="492" width="1" height="27" fill="#00ff00"/><rect x="1226" y="504" width="3" height="13" fill="#00ff00"/><rect x="1231" y="498" width="1" height="21" fill="#ff0000"/><rect x="1230" y="511" width="3" height="6" fill="#ff0000"/><rect x="1235" y="509" width="1" height="11" fill="#00ff00"/><rect x="1234" y="511" width="3" height="8" fill="#00ff00"/><rect x="1239" y="524" width="1" height="22" fill="#00ff00"/><rect x="1238" y="527" width="3" height="13" fill="#00ff00"/><rect x="1243" y="536" width="1" height="26" fill="#00ff00"/><rect x="1242" y="540" width="3" height="16" fill="#00ff00"/><rect x="1247" y="544" width="1" height="29" fill="#ff0000"/><rect x="1246" y="553" width="3" height="3" fill="#ff0000"/><rect x="1251" y="526" width="1" height="31" fill="#ff0000"/><rect x="1250" y="536" width="3" height="17" fill="#ff0000"/><rect x="1255" y="533" width="1" height="23" fill="#00ff00"/><rect x="1254" y="536" width="3" height="16" fill="#00ff00"/><rect x="1259" y="551" width="1" height="7" fill="#00ff00"/><rect x="1258" y="552" width="3" height="5" fill="#00ff00"/><rect x="1263" y="529" width="1" height="34" fill="#ff0000"/><rect x="1262" y="529" width="3" height="23" fill="#ff0000"/><rect x="1267" y="528" width="1" height="14" fill="#00ff00"/><rect x="1266" y="530" width="3" height="10" fill="#00ff00"/></g><polyline clip-path="url(#cm)" points="3.5,183.3 7.5,183.8 11.5,184.4 15.5,185.4 19.5,186.8 23.5,188.1 27.5,189.1 31.5,190.0 35.5,190.8 39.5,191.5 43.5,191.3 47.5,191.5 51.5,191.4 55.5,191.4 59.5,191.4 63.5,191.1 67.5,190.3 71.5,189.3 75.5,189.2 79.5,188.4 83.5,188.1 87.5,188.8 91.5,189.4 95.5,190.0 99.5,190.5 103.5,190.8 107.5,190.6 111.5,191.2 115.5,191.9 119.5,192.9 123.5,193.9 127.5,195.3 131.5,196.6 135.5,198.0 139.5,199.4 143.5,201.0 147.5,202.9 151.5,204.6 155.5,206.4 159.5,208.3 163.5,211.7 167.5,214.4 171.5,217.4 175.5,220.5 179.5,223.4 183.5,227.3 187.5,231.0 191.5,234.7 195.5,237.3 199.5,241.2 203.5,244.8 207.5,247.9 211.5,250.1 215.5,252.4 219.5,254.1 223.5,255.7 227.5,257.5 231.5,258.1 235.5,259.0 239.5,259.9 243.5,259.6 247.5,259.4 251.5,259.2 255.5,258.2 259.5,257.5 263.5,257.2 267.5,256.7 271.5,255.7 275.5,254.5 279.5,254.0 283.5,253.4 287.5,252.6 291.5,251.2 295.5,249.1 299.5,246.9 303.5,244.4 307.5,241.4 311.5,238.4 315.5,234.0 319.5,229.5 323.5,225.1 327.5,221.0 331.5,218.1 335.5,215.0 339.5,213.3 343.5,211.8 347.5,210.5 351.5,211.2 355.5,212.1 359.5,213.4 363.5,215.0 367.5,216.8 371.5,218.4 375.5,220.2 379.5,220.8 383.5,221.2 387.5,219.5 391.5,218.9 395.5,218.4 399.5,218.2 403.5,216.6 407.5,213.8 411.5,209.6 415.5,206.0 419.5,202.4 423.5,198.7 427.5,196.6 431.5,193.3 435.5,192.2 439.5,190.4 443.5,189.1 447.5,186.7 451.5,185.0 455.5,182.9 459.5,180.8 463.5,177.4 467.5,174.2 471.5,170.5 475.5,167.4 479.5,163.4 483.5,160.5 487.5,157.6 491.5,154.7 495.5,151.9 499.5,149.8 503.5,146.8 507.5,145.7 511.5,144.4 515.5,143.2 519.5,141.0 523.5,139.2 527.5,138.7 531.5,140.4 535.5,141.3 539.5,142.3 543.5,143.3 547.5,143.3 551.5,144.7 555.5,145.1 559.5,144.4 563.5,143.0 567.5,142.8 571.5,141.9 575.5,141.5 579.5,141.2 583.5,142.0 587.5,142.3 591.5,142.1 595.5,141.1 599.5,140.1 603.5,138.3 607.5,136.1 611.5,133.9 615.5,132.2 619.5,130.5 623.5,129.7 627.5,128.6 631.5,126.8 635.5,125.0 639.5,123.3 643.5,122.2 647.5,119.8 651.5,117.8 655.5,116.1 659.5,114.5 663.5,113.3 667.5,112.6 671.5,111.6 675.5,110.5 679.5,112.2 683.5,113.9 687.5,115.8 691.5,116.9 695.5,118.9 699.5,119.6 703.5,119.9 707.5,120.2 711.5,120.9 715.5,121.2 719.5,122.0 723.5,122.9 727.5,124.5 731.5,125.8 735.5,127.6 739.5,129.0 743.5,129.7 747.5,130.9 751.5,132.5 755.5,134.0 759.5,135.8 763.5,137.8 767.5,141.0 771.5,143.2 775.5,145.8 779.5,148.0 783.5,151.1 787.5,153.6 791.5,156.6 795.5,159.7 799.5,161.3 803.5,162.9 807.5,164.5 811.5,166.2 815.5,167.9 819.5,170.0 823.5,172.2 827.5,174.6 831.5,177.0 835.5,179.8 839.5,181.8 843.5,183.9 847.5,185.1 851.5,186.6 855.5,188.1 859.5,189.5 863.5,191.4 867.5,193.2 871.5,196.0 875.5,198.5 879.5,201.0 883.5,203.3 887.5,206.8 891.5,209.9 895.5,212.3 899.5,214.8 903.5,216.3 907.5,218.2 911.5,220.0 915.5,221.2 919.5,222.9 923.5,224.7 927.5,226.4 931.5,229.0 935.5,230.9 939.5,232.9 943.5,234.8 947.5,236.4 951.5,238.5 955.5,240.2 959.5,243.3 963.5,246.4 967.5,250.7 971.5,254.7 975.5,258.6 979.5,263.0 983.5,267.3 987.5,271.5 991.5,275.0 995.5,279.0 999.5,282.8 1003.5,286.1 1007.5,288.6 1011.5,291.7 1015.5,295.2 1019.5,298.7 1023.5,302.7 1027.5,306.9 1031.5,311.5 1035.5,316.3 1039.5,320.7 1043.5,324.9 1047.5,328.2 1051.5,331.5 1055.5,333.9 1059.5,335.8 1063.5,338.0 1067.5,340.4 1071.5,342.9 1075.5,345.1 1079.5,347.7 1083.5,351.3 1087.5,353.9 1091.5,356.7 1095.5,360.0 1099.5,362.5 1103.5,365.1 1107.5,367.9 1111.5,372.1 1115.5,375.9 1119.5,378.1 1123.5,381.0 1127.5,384.3 1131.5,387.2 1135.5,390.9 1139.5,394.5 1143.5,397.8 1147.5,400.9 1151.5,403.8 1155.5,406.3 1159.5,408.9 1163.5,411.8 1167.5,414.4 1171.5,416.5 1175.5,418.8 1179.5,421.7 1183.5,425.4 1187.5,428.9 1191.5,432.1 1195.5,435.8 1199.5,439.5 1203.5,443.0 1207.5,447.4 1211.5,451.7 1215.5,454.1 1219.5,457.5 1223.5,460.4 1227.5,463.9 1231.5,465.8 1235.5,468.1 1239.5,472.5 1243.5,477.4 1247.5,481.3 1251.5,484.9 1255.5,488.4 1259.5,492.2 1263.5,494.5 1267.5,496.8" fill="none" stroke="#0000c8" stroke-width="1" shape-rendering="crispEdges" stroke-linejoin="round"/><polyline clip-path="url(#cm)" points="3.5,200.6 7.5,197.8 11.5,194.1 15.5,191.5 19.5,189.7 23.5,189.7 27.5,188.8 31.5,188.5 35.5,187.8 39.5,186.0 43.5,181.5 47.5,180.5 51.5,180.0 55.5,180.5 59.5,180.8 63.5,181.3 67.5,182.1 71.5,181.9 75.5,184.3 79.5,184.5 83.5,186.1 87.5,188.3 91.5,190.5 95.5,192.9 99.5,197.1 103.5,199.9 107.5,202.2 111.5,203.4 115.5,204.3 119.5,206.2 123.5,208.4 127.5,210.7 131.5,209.9 135.5,212.0 139.5,214.1 143.5,215.9 147.5,217.8 151.5,219.8 155.5,221.9 159.5,223.4 163.5,226.7 167.5,230.2 171.5,234.6 175.5,239.6 179.5,244.0 183.5,249.9 187.5,255.8 191.5,260.6 195.5,265.5 199.5,270.7 203.5,275.9 207.5,281.1 211.5,284.2 215.5,287.5 219.5,287.8 223.5,288.5 227.5,288.1 231.5,284.0 235.5,280.6 239.5,276.2 243.5,269.6 247.5,263.5 251.5,256.8 255.5,248.3 259.5,241.4 263.5,235.8 267.5,231.9 271.5,226.8 275.5,222.9 279.5,219.7 283.5,217.8 287.5,218.5 291.5,217.9 295.5,216.3 299.5,216.8 303.5,217.8 307.5,217.6 311.5,218.1 315.5,215.2 319.5,211.5 323.5,208.2 327.5,206.9 331.5,206.2 335.5,203.9 339.5,201.9 343.5,201.1 347.5,201.0 351.5,202.9 355.5,206.1 359.5,209.7 363.5,213.2 367.5,217.2 371.5,223.3 375.5,228.3 379.5,232.2 383.5,236.1 387.5,235.0 391.5,235.2 395.5,233.8 399.5,233.4 403.5,230.7 407.5,224.1 411.5,212.4 415.5,200.7 419.5,189.9 423.5,179.1 427.5,170.9 431.5,160.5 435.5,153.8 439.5,145.6 443.5,142.9 447.5,137.7 451.5,134.7 455.5,128.2 459.5,125.1 463.5,123.1 467.5,125.2 471.5,126.7 475.5,130.9 479.5,134.0 483.5,135.7 487.5,140.6 491.5,142.9 495.5,145.7 499.5,148.0 503.5,150.8 507.5,150.7 511.5,152.7 515.5,153.2 519.5,155.3 523.5,155.7 527.5,156.0 531.5,154.6 535.5,153.3 539.5,151.0 543.5,148.5 547.5,146.4 551.5,145.1 555.5,143.7 559.5,140.2 563.5,137.3 567.5,134.3 571.5,131.9 575.5,129.2 579.5,129.5 583.5,130.0 587.5,129.2 591.5,128.6 595.5,128.3 599.5,127.3 603.5,125.2 607.5,122.2 611.5,119.0 615.5,119.6 619.5,121.2 623.5,122.8 627.5,122.3 631.5,121.2 635.5,118.6 639.5,115.3 643.5,112.6 647.5,108.0 651.5,104.8 655.5,101.8 659.5,99.9 663.5,99.7 667.5,100.8 671.5,101.1 675.5,100.9 679.5,102.7 683.5,105.8 687.5,110.7 691.5,114.5 695.5,119.7 699.5,123.9 703.5,130.2 707.5,134.3 711.5,138.9 715.5,142.7 719.5,145.8 723.5,147.3 727.5,149.7 731.5,151.8 735.5,152.5 739.5,153.5 743.5,152.7 747.5,152.4 751.5,150.4 755.5,149.5 759.5,149.4 763.5,150.2 767.5,151.1 771.5,152.0 775.5,152.8 779.5,153.6 783.5,156.8 787.5,160.3 791.5,163.3 795.5,166.6 799.5,170.3 803.5,174.3 807.5,179.2 811.5,183.4 815.5,188.6 819.5,193.1 823.5,197.1 827.5,201.6 831.5,205.8 835.5,210.8 839.5,211.5 843.5,212.2 847.5,210.8 851.5,209.6 855.5,209.9 859.5,210.5 863.5,210.4 867.5,210.2 871.5,210.6 875.5,210.5 879.5,211.1 883.5,211.7 887.5,214.8 891.5,216.4 895.5,218.2 899.5,219.9 903.5,223.7 907.5,227.8 911.5,231.7 915.5,234.6 919.5,237.9 923.5,241.7 927.5,244.4 931.5,248.7 935.5,252.6 939.5,256.5 943.5,257.1 947.5,258.5 951.5,261.9 955.5,265.2 959.5,269.3 963.5,272.6 967.5,276.6 971.5,281.4 975.5,286.4 979.5,292.6 983.5,298.0 987.5,301.4 991.5,305.2 995.5,309.2 999.5,314.1 1003.5,318.1 1007.5,322.2 1011.5,326.6 1015.5,329.3 1019.5,332.1 1023.5,335.2 1027.5,339.6 1031.5,345.0 1035.5,348.8 1039.5,352.3 1043.5,356.2 1047.5,358.3 1051.5,361.2 1055.5,362.0 1059.5,363.0 1063.5,362.9 1067.5,363.0 1071.5,364.2 1075.5,364.7 1079.5,365.8 1083.5,367.8 1087.5,367.4 1091.5,367.9 1095.5,370.7 1099.5,373.0 1103.5,377.2 1107.5,379.5 1111.5,386.9 1115.5,395.1 1119.5,400.1 1123.5,405.1 1127.5,410.9 1131.5,416.8 1135.5,422.0 1139.5,424.6 1143.5,429.3 1147.5,434.4 1151.5,438.9 1155.5,442.7 1159.5,446.1 1163.5,450.2 1167.5,449.1 1171.5,448.2 1175.5,449.1 1179.5,450.2 1183.5,451.0 1187.5,452.4 1191.5,452.5 1195.5,453.4 1199.5,455.2 1203.5,458.0 1207.5,460.7 1211.5,465.2 1215.5,467.5 1219.5,471.0 1223.5,475.6 1227.5,481.2 1231.5,487.8 1235.5,494.4 1239.5,501.1 1243.5,508.9 1247.5,516.4 1251.5,522.0 1255.5,526.8 1259.5,530.0 1263.5,530.3 1267.5,531.0" fill="none" stroke="#ff0000" stroke-width="1" shape-rendering="crispEdges" stroke-linejoin="round"/><polyline clip-path="url(#cm)" points="3.5,189.7 7.5,181.6 11.5,179.6 15.5,180.2 19.5,183.6 23.5,185.0 27.5,187.2 31.5,189.2 35.5,189.0 39.5,185.2 43.5,176.2 47.5,173.8 51.5,171.6 55.5,171.8 59.5,175.2 63.5,181.2 67.5,184.2 71.5,185.6 75.5,194.1 79.5,195.3 83.5,200.6 87.5,206.6 91.5,213.0 95.5,209.4 99.5,211.4 103.5,212.3 107.5,210.4 111.5,207.9 115.5,207.0 119.5,206.8 123.5,208.1 127.5,209.4 131.5,212.3 135.5,216.8 139.5,222.8 143.5,227.6 147.5,233.0 151.5,237.2 155.5,239.2 159.5,238.3 163.5,240.6 167.5,242.8 171.5,248.4 175.5,256.4 179.5,265.7 183.5,274.5 187.5,283.8 191.5,289.4 195.5,295.2 199.5,302.4 203.5,305.7 207.5,308.0 211.5,305.5 215.5,300.0 219.5,288.4 223.5,278.1 227.5,268.1 231.5,255.8 235.5,246.4 239.5,242.0 243.5,231.0 247.5,220.4 251.5,218.9 255.5,212.0 259.5,208.3 263.5,213.2 267.5,217.1 271.5,216.0 275.5,217.1 279.5,217.3 283.5,217.9 287.5,218.3 291.5,221.5 295.5,223.8 299.5,223.0 303.5,220.5 307.5,216.3 311.5,212.4 315.5,205.0 319.5,198.2 323.5,190.1 327.5,186.0 331.5,183.9 335.5,185.9 339.5,190.9 343.5,198.3 347.5,205.1 351.5,214.6 355.5,229.0 359.5,242.4 363.5,250.2 367.5,257.8 371.5,262.0 375.5,260.3 379.5,253.3 383.5,250.2 387.5,233.7 391.5,219.1 395.5,206.4 399.5,201.4 403.5,190.2 407.5,183.9 411.5,165.2 415.5,149.6 419.5,128.5 423.5,113.3 427.5,113.1 431.5,115.1 435.5,122.0 439.5,126.0 443.5,132.3 447.5,126.2 451.5,134.1 455.5,129.8 459.5,133.0 463.5,128.4 467.5,130.3 471.5,127.3 475.5,136.0 479.5,138.2 483.5,148.5 487.5,158.2 491.5,167.4 495.5,167.5 499.5,171.6 503.5,168.4 507.5,162.4 511.5,157.1 515.5,154.0 519.5,148.7 523.5,144.2 527.5,142.2 531.5,141.4 535.5,138.4 539.5,136.6 543.5,137.9 547.5,140.3 551.5,140.8 555.5,144.7 559.5,138.1 563.5,130.9 567.5,123.3 571.5,117.1 575.5,108.2 579.5,114.1 583.5,121.9 587.5,127.3 591.5,129.0 595.5,133.9 599.5,131.8 603.5,126.8 607.5,121.2 611.5,117.9 615.5,113.9 619.5,114.0 623.5,116.6 627.5,117.4 631.5,114.5 635.5,111.1 639.5,105.5 643.5,98.8 647.5,89.0 651.5,87.8 655.5,84.8 659.5,83.4 663.5,85.0 667.5,97.4 671.5,103.5 675.5,111.4 679.5,124.6 683.5,134.5 687.5,142.4 691.5,148.6 695.5,158.2 699.5,158.2 703.5,157.4 707.5,154.0 711.5,153.1 715.5,148.0 719.5,146.3 723.5,145.2 727.5,146.6 731.5,147.6 735.5,152.0 739.5,156.0 743.5,157.4 747.5,156.1 751.5,154.4 755.5,149.9 759.5,146.0 763.5,147.0 767.5,149.6 771.5,152.2 775.5,155.3 779.5,157.1 783.5,165.1 787.5,173.2 791.5,183.7 795.5,194.6 799.5,204.0 803.5,205.0 807.5,207.4 811.5,206.1 815.5,207.6 819.5,210.9 823.5,213.4 827.5,214.8 831.5,218.1 835.5,219.4 839.5,216.7 843.5,215.6 847.5,209.5 851.5,205.2 855.5,201.5 859.5,202.1 863.5,202.3 867.5,204.7 871.5,210.3 875.5,212.4 879.5,215.2 883.5,218.6 887.5,231.0 891.5,235.7 895.5,238.3 899.5,240.2 903.5,243.1 907.5,241.6 911.5,244.2 915.5,248.0 919.5,252.5 923.5,255.0 927.5,256.6 931.5,260.3 935.5,265.6 939.5,270.7 943.5,274.1 947.5,275.3 951.5,275.2 955.5,275.6 959.5,279.1 963.5,285.1 967.5,294.7 971.5,302.4 975.5,311.8 979.5,320.2 983.5,327.7 987.5,329.7 991.5,332.3 995.5,334.5 999.5,334.3 1003.5,331.4 1007.5,333.7 1011.5,335.7 1015.5,335.5 1019.5,335.4 1023.5,342.8 1027.5,351.2 1031.5,363.3 1035.5,374.7 1039.5,384.4 1043.5,388.5 1047.5,384.7 1051.5,379.9 1055.5,371.3 1059.5,361.3 1063.5,352.5 1067.5,348.6 1071.5,344.0 1075.5,343.0 1079.5,350.5 1083.5,364.7 1087.5,375.7 1091.5,384.9 1095.5,401.0 1099.5,408.9 1103.5,411.0 1107.5,413.9 1111.5,424.6 1115.5,429.8 1119.5,428.4 1123.5,426.8 1127.5,431.8 1131.5,426.4 1135.5,425.7 1139.5,433.3 1143.5,443.4 1147.5,450.7 1151.5,463.1 1155.5,467.0 1159.5,471.0 1163.5,472.4 1167.5,465.8 1171.5,455.7 1175.5,446.2 1179.5,438.4 1183.5,434.1 1187.5,435.6 1191.5,437.7 1195.5,445.4 1199.5,457.2 1203.5,470.5 1207.5,486.3 1211.5,502.6 1215.5,510.6 1219.5,516.7 1223.5,515.0 1227.5,513.3 1231.5,509.4 1235.5,513.6 1239.5,518.5 1243.5,528.9 1247.5,536.2 1251.5,541.2 1255.5,548.0 1259.5,551.2 1263.5,546.0 1267.5,543.4" fill="none" stroke="#ffa500" stroke-width="1" shape-rendering="crispEdges" stroke-linejoin="round"/><g shape-rendering="crispEdges"><rect x="3" y="50" width="1592" height="2" fill="#ff0000"/><rect x="3" y="129" width="1592" height="2" fill="#ff0000"/><rect x="3" y="207" width="1592" height="2" fill="#ff0000"/><rect x="3" y="298" width="1592" height="2" fill="#00ff00"/><rect x="3" y="392" width="1592" height="2" fill="#0000ff"/><rect x="3" y="496" width="1592" height="2" fill="#0000ff"/></g><g shape-rendering="crispEdges"><line x1="4" y1="618.5" x2="1595" y2="618.5" stroke="#c0c0c0" stroke-width="1" stroke-dasharray="3 3"/><line x1="4" y1="658.5" x2="1595" y2="658.5" stroke="#c0c0c0" stroke-width="1" stroke-dasharray="3 3"/></g><polyline clip-path="url(#cr)" points="3.5,640.4 7.5,633.6 11.5,635.3 15.5,639.4 19.5,643.5 23.5,643.9 27.5,638.4 31.5,639.4 35.5,638.2 39.5,633.7 43.5,624.4 47.5,635.1 51.5,636.4 55.5,640.4 59.5,643.2 63.5,638.3 67.5,641.0 71.5,638.8 75.5,653.1 79.5,642.5 83.5,644.9 87.5,647.5 91.5,646.6 95.5,644.5 99.5,644.2 103.5,645.2 107.5,643.6 111.5,641.2 115.5,642.2 119.5,643.2 123.5,647.4 127.5,645.6 131.5,646.5 135.5,650.6 139.5,654.1 143.5,655.5 147.5,655.3 151.5,652.8 155.5,652.4 159.5,649.2 163.5,657.1 167.5,656.5 171.5,660.8 175.5,663.7 179.5,664.2 183.5,668.2 187.5,668.5 191.5,664.7 195.5,667.3 199.5,669.2 203.5,667.6 207.5,665.6 211.5,646.9 215.5,645.4 219.5,636.1 223.5,638.2 227.5,637.7 231.5,624.2 235.5,629.2 239.5,630.9 243.5,623.5 247.5,623.8 251.5,625.8 255.5,621.9 259.5,630.5 263.5,635.6 267.5,634.5 271.5,628.6 275.5,627.5 279.5,633.7 283.5,638.9 287.5,637.5 291.5,635.3 295.5,632.4 299.5,632.8 303.5,635.8 307.5,631.4 311.5,629.9 315.5,622.7 319.5,624.5 323.5,625.0 327.5,628.0 331.5,630.5 335.5,628.3 339.5,636.5 343.5,641.4 347.5,642.8 351.5,648.6 355.5,653.4 359.5,656.5 363.5,650.1 367.5,651.0 371.5,651.2 375.5,646.1 379.5,641.1 383.5,642.6 387.5,624.9 391.5,628.3 395.5,627.8 399.5,636.2 403.5,629.9 407.5,623.0 411.5,616.2 415.5,620.0 419.5,619.7 423.5,620.7 427.5,630.7 431.5,624.3 435.5,632.8 439.5,630.3 443.5,633.4 447.5,629.4 451.5,635.2 455.5,631.6 459.5,635.6 463.5,631.9 467.5,633.2 471.5,634.1 475.5,640.9 479.5,638.8 483.5,641.8 487.5,642.5 491.5,642.8 495.5,640.5 499.5,642.4 503.5,637.6 507.5,635.4 511.5,636.8 515.5,637.0 519.5,636.3 523.5,632.2 527.5,633.0 531.5,636.8 535.5,633.9 539.5,634.9 543.5,634.9 547.5,637.6 551.5,638.5 555.5,640.8 559.5,626.4 563.5,625.8 567.5,627.8 571.5,631.4 575.5,629.5 579.5,638.1 583.5,640.4 587.5,638.0 591.5,635.2 595.5,638.3 599.5,634.8 603.5,632.7 607.5,629.7 611.5,630.8 615.5,633.0 619.5,637.1 623.5,639.1 627.5,632.4 631.5,627.6 635.5,628.9 639.5,628.6 643.5,628.6 647.5,619.2 651.5,630.5 655.5,629.0 659.5,631.7 663.5,637.1 667.5,643.2 671.5,641.5 675.5,642.4 679.5,651.5 683.5,650.7 687.5,653.0 691.5,647.8 695.5,652.5 699.5,647.4 703.5,645.4 707.5,643.8 711.5,643.8 715.5,643.0 719.5,644.3 723.5,643.0 727.5,645.9 731.5,645.1 735.5,650.3 739.5,650.9 743.5,643.1 747.5,640.4 751.5,639.0 755.5,639.1 759.5,641.6 763.5,645.4 767.5,646.2 771.5,644.5 775.5,645.8 779.5,644.8 783.5,659.2 787.5,659.9 791.5,662.1 795.5,663.3 799.5,657.1 803.5,655.8 807.5,658.8 811.5,652.5 815.5,658.1 819.5,657.8 823.5,654.3 827.5,655.7 831.5,655.3 835.5,658.1 839.5,646.1 843.5,646.9 847.5,637.1 851.5,640.7 855.5,645.2 859.5,645.7 863.5,645.7 867.5,640.7 871.5,650.1 875.5,647.0 879.5,648.8 883.5,649.8 887.5,659.4 891.5,653.1 895.5,645.9 899.5,646.3 903.5,648.8 907.5,652.4 911.5,654.3 915.5,649.2 919.5,650.7 923.5,649.7 927.5,652.3 931.5,657.1 935.5,655.8 939.5,656.8 943.5,651.0 947.5,649.7 951.5,653.3 955.5,653.3 959.5,658.8 963.5,659.3 967.5,663.1 971.5,663.4 975.5,665.2 979.5,667.9 983.5,666.2 987.5,658.9 991.5,659.9 995.5,661.6 999.5,662.1 1003.5,652.2 1007.5,656.5 1011.5,657.2 1015.5,654.8 1019.5,655.4 1023.5,661.5 1027.5,665.6 1031.5,669.0 1035.5,664.7 1039.5,661.3 1043.5,657.8 1047.5,648.0 1051.5,652.5 1055.5,642.3 1059.5,638.1 1063.5,637.9 1067.5,639.4 1071.5,643.6 1075.5,640.4 1079.5,648.9 1083.5,655.8 1087.5,651.6 1091.5,652.5 1095.5,657.3 1099.5,653.1 1103.5,654.0 1107.5,651.0 1111.5,659.0 1115.5,658.0 1119.5,644.4 1123.5,645.1 1127.5,650.0 1131.5,647.7 1135.5,651.5 1139.5,650.7 1143.5,653.6 1147.5,655.6 1151.5,658.3 1155.5,651.2 1159.5,650.6 1163.5,651.1 1167.5,642.3 1171.5,642.1 1175.5,637.0 1179.5,638.9 1183.5,643.9 1187.5,644.1 1191.5,644.7 1195.5,647.0 1199.5,653.4 1203.5,658.2 1207.5,660.3 1211.5,661.0 1215.5,649.6 1219.5,653.0 1223.5,649.2 1227.5,651.7 1231.5,649.7 1235.5,651.4 1239.5,655.5 1243.5,658.0 1247.5,657.1 1251.5,651.0 1255.5,654.2 1259.5,655.0 1263.5,645.9 1267.5,648.2" fill="none" stroke="#1e90ff" stroke-width="1" shape-rendering="crispEdges" stroke-linejoin="round"/><g clip-path="url(#cd)" shape-rendering="crispEdges"><rect x="3" y="743" width="1" height="9" fill="#c0c0c0"/><rect x="7" y="743" width="1" height="6" fill="#c0c0c0"/><rect x="11" y="743" width="1" height="4" fill="#c0c0c0"/><rect x="15" y="743" width="1" height="4" fill="#c0c0c0"/><rect x="19" y="743" width="1" height="4" fill="#c0c0c0"/><rect x="23" y="743" width="1" height="5" fill="#c0c0c0"/><rect x="27" y="743" width="1" height="4" fill="#c0c0c0"/><rect x="31" y="743" width="1" height="3" fill="#c0c0c0"/><rect x="35" y="743" width="1" height="3" fill="#c0c0c0"/><rect x="39" y="743" width="1" height="1" fill="#c0c0c0"/><rect x="43" y="740" width="1" height="3" fill="#c0c0c0"/><rect x="47" y="739" width="1" height="4" fill="#c0c0c0"/><rect x="51" y="739" width="1" height="4" fill="#c0c0c0"/><rect x="55" y="740" width="1" height="3" fill="#c0c0c0"/><rect x="59" y="742" width="1" height="1" fill="#c0c0c0"/><rect x="63" y="742" width="1" height="1" fill="#c0c0c0"/><rect x="67" y="742" width="1" height="1" fill="#c0c0c0"/><rect x="71" y="742" width="1" height="1" fill="#c0c0c0"/><rect x="75" y="743" width="1" height="5" fill="#c0c0c0"/><rect x="79" y="743" width="1" height="6" fill="#c0c0c0"/><rect x="83" y="743" width="1" height="7" fill="#c0c0c0"/><rect x="87" y="743" width="1" height="10" fill="#c0c0c0"/><rect x="91" y="743" width="1" height="11" fill="#c0c0c0"/><rect x="95" y="743" width="1" height="11" fill="#c0c0c0"/><rect x="99" y="743" width="1" height="11" fill="#c0c0c0"/><rect x="103" y="743" width="1" height="12" fill="#c0c0c0"/><rect x="107" y="743" width="1" height="11" fill="#c0c0c0"/><rect x="111" y="743" width="1" height="10" fill="#c0c0c0"/><rect x="115" y="743" width="1" height="9" fill="#c0c0c0"/><rect x="119" y="743" width="1" height="9" fill="#c0c0c0"/><rect x="123" y="743" width="1" height="10" fill="#c0c0c0"/><rect x="127" y="743" width="1" height="10" fill="#c0c0c0"/><rect x="131" y="743" width="1" height="10" fill="#c0c0c0"/><rect x="135" y="743" width="1" height="12" fill="#c0c0c0"/><rect x="139" y="743" width="1" height="14" fill="#c0c0c0"/><rect x="143" y="743" width="1" height="16" fill="#c0c0c0"/><rect x="147" y="743" width="1" height="17" fill="#c0c0c0"/><rect x="151" y="743" width="1" height="18" fill="#c0c0c0"/><rect x="155" y="743" width="1" height="18" fill="#c0c0c0"/><rect x="159" y="743" width="1" height="17" fill="#c0c0c0"/><rect x="163" y="743" width="1" height="19" fill="#c0c0c0"/><rect x="167" y="743" width="1" height="20" fill="#c0c0c0"/><rect x="171" y="743" width="1" height="22" fill="#c0c0c0"/><rect x="175" y="743" width="1" height="25" fill="#c0c0c0"/><rect x="179" y="743" width="1" height="27" fill="#c0c0c0"/><rect x="183" y="743" width="1" height="31" fill="#c0c0c0"/><rect x="187" y="743" width="1" height="33" fill="#c0c0c0"/><rect x="191" y="743" width="1" height="34" fill="#c0c0c0"/><rect x="195" y="743" width="1" height="36" fill="#c0c0c0"/><rect x="199" y="743" width="1" height="38" fill="#c0c0c0"/><rect x="203" y="743" width="1" height="40" fill="#c0c0c0"/><rect x="207" y="743" width="1" height="40" fill="#c0c0c0"/><rect x="211" y="743" width="1" height="36" fill="#c0c0c0"/><rect x="215" y="743" width="1" height="32" fill="#c0c0c0"/><rect x="219" y="743" width="1" height="26" fill="#c0c0c0"/><rect x="223" y="743" width="1" height="22" fill="#c0c0c0"/><rect x="227" y="743" width="1" height="18" fill="#c0c0c0"/><rect x="231" y="743" width="1" height="10" fill="#c0c0c0"/><rect x="235" y="743" width="1" height="5" fill="#c0c0c0"/><rect x="239" y="743" width="1" height="1" fill="#c0c0c0"/><rect x="243" y="738" width="1" height="5" fill="#c0c0c0"/><rect x="247" y="733" width="1" height="10" fill="#c0c0c0"/><rect x="251" y="730" width="1" height="13" fill="#c0c0c0"/><rect x="255" y="726" width="1" height="17" fill="#c0c0c0"/><rect x="259" y="725" width="1" height="18" fill="#c0c0c0"/><rect x="263" y="727" width="1" height="16" fill="#c0c0c0"/><rect x="267" y="728" width="1" height="15" fill="#c0c0c0"/><rect x="271" y="726" width="1" height="17" fill="#c0c0c0"/><rect x="275" y="724" width="1" height="19" fill="#c0c0c0"/><rect x="279" y="725" width="1" height="18" fill="#c0c0c0"/><rect x="283" y="728" width="1" height="15" fill="#c0c0c0"/><rect x="287" y="730" width="1" height="13" fill="#c0c0c0"/><rect x="291" y="731" width="1" height="12" fill="#c0c0c0"/><rect x="295" y="730" width="1" height="13" fill="#c0c0c0"/><rect x="299" y="730" width="1" height="13" fill="#c0c0c0"/><rect x="303" y="731" width="1" height="12" fill="#c0c0c0"/><rect x="307" y="730" width="1" height="13" fill="#c0c0c0"/><rect x="311" y="729" width="1" height="14" fill="#c0c0c0"/><rect x="315" y="726" width="1" height="17" fill="#c0c0c0"/><rect x="319" y="723" width="1" height="20" fill="#c0c0c0"/><rect x="323" y="722" width="1" height="21" fill="#c0c0c0"/><rect x="327" y="722" width="1" height="21" fill="#c0c0c0"/><rect x="331" y="722" width="1" height="21" fill="#c0c0c0"/><rect x="335" y="722" width="1" height="21" fill="#c0c0c0"/><rect x="339" y="725" width="1" height="18" fill="#c0c0c0"/><rect x="343" y="728" width="1" height="15" fill="#c0c0c0"/><rect x="347" y="732" width="1" height="11" fill="#c0c0c0"/><rect x="351" y="737" width="1" height="6" fill="#c0c0c0"/><rect x="355" y="743" width="1" height="1" fill="#c0c0c0"/><rect x="359" y="743" width="1" height="7" fill="#c0c0c0"/><rect x="363" y="743" width="1" height="10" fill="#c0c0c0"/><rect x="367" y="743" width="1" height="13" fill="#c0c0c0"/><rect x="371" y="743" width="1" height="15" fill="#c0c0c0"/><rect x="375" y="743" width="1" height="15" fill="#c0c0c0"/><rect x="379" y="743" width="1" height="14" fill="#c0c0c0"/><rect x="383" y="743" width="1" height="13" fill="#c0c0c0"/><rect x="387" y="743" width="1" height="4" fill="#c0c0c0"/><rect x="391" y="742" width="1" height="1" fill="#c0c0c0"/><rect x="395" y="737" width="1" height="6" fill="#c0c0c0"/><rect x="399" y="737" width="1" height="6" fill="#c0c0c0"/><rect x="403" y="734" width="1" height="9" fill="#c0c0c0"/><rect x="407" y="726" width="1" height="17" fill="#c0c0c0"/><rect x="411" y="715" width="1" height="28" fill="#c0c0c0"/><rect x="415" y="707" width="1" height="36" fill="#c0c0c0"/><rect x="419" y="702" width="1" height="41" fill="#c0c0c0"/><rect x="423" y="699" width="1" height="44" fill="#c0c0c0"/><rect x="427" y="701" width="1" height="42" fill="#c0c0c0"/><rect x="431" y="698" width="1" height="45" fill="#c0c0c0"/><rect x="435" y="701" width="1" height="42" fill="#c0c0c0"/><rect x="439" y="702" width="1" height="41" fill="#c0c0c0"/><rect x="443" y="705" width="1" height="38" fill="#c0c0c0"/><rect x="447" y="704" width="1" height="39" fill="#c0c0c0"/><rect x="451" y="708" width="1" height="35" fill="#c0c0c0"/><rect x="455" y="708" width="1" height="35" fill="#c0c0c0"/><rect x="459" y="711" width="1" height="32" fill="#c0c0c0"/><rect x="463" y="711" width="1" height="32" fill="#c0c0c0"/><rect x="467" y="713" width="1" height="30" fill="#c0c0c0"/><rect x="471" y="714" width="1" height="29" fill="#c0c0c0"/><rect x="475" y="720" width="1" height="23" fill="#c0c0c0"/><rect x="479" y="724" width="1" height="19" fill="#c0c0c0"/><rect x="483" y="729" width="1" height="14" fill="#c0c0c0"/><rect x="487" y="733" width="1" height="10" fill="#c0c0c0"/><rect x="491" y="737" width="1" height="6" fill="#c0c0c0"/><rect x="495" y="739" width="1" height="4" fill="#c0c0c0"/><rect x="499" y="742" width="1" height="1" fill="#c0c0c0"/><rect x="503" y="741" width="1" height="2" fill="#c0c0c0"/><rect x="507" y="740" width="1" height="3" fill="#c0c0c0"/><rect x="511" y="739" width="1" height="4" fill="#c0c0c0"/><rect x="515" y="739" width="1" height="4" fill="#c0c0c0"/><rect x="519" y="739" width="1" height="4" fill="#c0c0c0"/><rect x="523" y="736" width="1" height="7" fill="#c0c0c0"/><rect x="527" y="735" width="1" height="8" fill="#c0c0c0"/><rect x="531" y="735" width="1" height="8" fill="#c0c0c0"/><rect x="535" y="734" width="1" height="9" fill="#c0c0c0"/><rect x="539" y="734" width="1" height="9" fill="#c0c0c0"/><rect x="543" y="734" width="1" height="9" fill="#c0c0c0"/><rect x="547" y="735" width="1" height="8" fill="#c0c0c0"/><rect x="551" y="736" width="1" height="7" fill="#c0c0c0"/><rect x="555" y="738" width="1" height="5" fill="#c0c0c0"/><rect x="559" y="733" width="1" height="10" fill="#c0c0c0"/><rect x="563" y="730" width="1" height="13" fill="#c0c0c0"/><rect x="567" y="728" width="1" height="15" fill="#c0c0c0"/><rect x="571" y="727" width="1" height="16" fill="#c0c0c0"/><rect x="575" y="726" width="1" height="17" fill="#c0c0c0"/><rect x="579" y="729" width="1" height="14" fill="#c0c0c0"/><rect x="583" y="731" width="1" height="12" fill="#c0c0c0"/><rect x="587" y="733" width="1" height="10" fill="#c0c0c0"/><rect x="591" y="733" width="1" height="10" fill="#c0c0c0"/><rect x="595" y="735" width="1" height="8" fill="#c0c0c0"/><rect x="599" y="734" width="1" height="9" fill="#c0c0c0"/><rect x="603" y="734" width="1" height="9" fill="#c0c0c0"/><rect x="607" y="732" width="1" height="11" fill="#c0c0c0"/><rect x="611" y="731" width="1" height="12" fill="#c0c0c0"/><rect x="615" y="731" width="1" height="12" fill="#c0c0c0"/><rect x="619" y="732" width="1" height="11" fill="#c0c0c0"/><rect x="623" y="734" width="1" height="9" fill="#c0c0c0"/><rect x="627" y="733" width="1" height="10" fill="#c0c0c0"/><rect x="631" y="731" width="1" height="12" fill="#c0c0c0"/><rect x="635" y="729" width="1" height="14" fill="#c0c0c0"/><rect x="639" y="728" width="1" height="15" fill="#c0c0c0"/><rect x="643" y="728" width="1" height="15" fill="#c0c0c0"/><rect x="647" y="723" width="1" height="20" fill="#c0c0c0"/><rect x="651" y="723" width="1" height="20" fill="#c0c0c0"/><rect x="655" y="722" width="1" height="21" fill="#c0c0c0"/><rect x="659" y="723" width="1" height="20" fill="#c0c0c0"/><rect x="663" y="726" width="1" height="17" fill="#c0c0c0"/><rect x="667" y="730" width="1" height="13" fill="#c0c0c0"/><rect x="671" y="733" width="1" height="10" fill="#c0c0c0"/><rect x="675" y="736" width="1" height="7" fill="#c0c0c0"/><rect x="679" y="742" width="1" height="1" fill="#c0c0c0"/><rect x="683" y="743" width="1" height="4" fill="#c0c0c0"/><rect x="687" y="743" width="1" height="9" fill="#c0c0c0"/><rect x="691" y="743" width="1" height="11" fill="#c0c0c0"/><rect x="695" y="743" width="1" height="15" fill="#c0c0c0"/><rect x="699" y="743" width="1" height="16" fill="#c0c0c0"/><rect x="703" y="743" width="1" height="16" fill="#c0c0c0"/><rect x="707" y="743" width="1" height="15" fill="#c0c0c0"/><rect x="711" y="743" width="1" height="15" fill="#c0c0c0"/><rect x="715" y="743" width="1" height="14" fill="#c0c0c0"/><rect x="719" y="743" width="1" height="13" fill="#c0c0c0"/><rect x="723" y="743" width="1" height="13" fill="#c0c0c0"/><rect x="727" y="743" width="1" height="13" fill="#c0c0c0"/><rect x="731" y="743" width="1" height="12" fill="#c0c0c0"/><rect x="735" y="743" width="1" height="14" fill="#c0c0c0"/><rect x="739" y="743" width="1" height="15" fill="#c0c0c0"/><rect x="743" y="743" width="1" height="14" fill="#c0c0c0"/><rect x="747" y="743" width="1" height="12" fill="#c0c0c0"/><rect x="751" y="743" width="1" height="10" fill="#c0c0c0"/><rect x="755" y="743" width="1" height="9" fill="#c0c0c0"/><rect x="759" y="743" width="1" height="8" fill="#c0c0c0"/><rect x="763" y="743" width="1" height="8" fill="#c0c0c0"/><rect x="767" y="743" width="1" height="9" fill="#c0c0c0"/><rect x="771" y="743" width="1" height="9" fill="#c0c0c0"/><rect x="775" y="743" width="1" height="9" fill="#c0c0c0"/><rect x="779" y="743" width="1" height="9" fill="#c0c0c0"/><rect x="783" y="743" width="1" height="13" fill="#c0c0c0"/><rect x="787" y="743" width="1" height="17" fill="#c0c0c0"/><rect x="791" y="743" width="1" height="21" fill="#c0c0c0"/><rect x="795" y="743" width="1" height="24" fill="#c0c0c0"/><rect x="799" y="743" width="1" height="25" fill="#c0c0c0"/><rect x="803" y="743" width="1" height="26" fill="#c0c0c0"/><rect x="807" y="743" width="1" height="27" fill="#c0c0c0"/><rect x="811" y="743" width="1" height="26" fill="#c0c0c0"/><rect x="815" y="743" width="1" height="28" fill="#c0c0c0"/><rect x="819" y="743" width="1" height="29" fill="#c0c0c0"/><rect x="823" y="743" width="1" height="28" fill="#c0c0c0"/><rect x="827" y="743" width="1" height="28" fill="#c0c0c0"/><rect x="831" y="743" width="1" height="28" fill="#c0c0c0"/><rect x="835" y="743" width="1" height="28" fill="#c0c0c0"/><rect x="839" y="743" width="1" height="26" fill="#c0c0c0"/><rect x="843" y="743" width="1" height="24" fill="#c0c0c0"/><rect x="847" y="743" width="1" height="19" fill="#c0c0c0"/><rect x="851" y="743" width="1" height="17" fill="#c0c0c0"/><rect x="855" y="743" width="1" height="16" fill="#c0c0c0"/><rect x="859" y="743" width="1" height="15" fill="#c0c0c0"/><rect x="863" y="743" width="1" height="15" fill="#c0c0c0"/><rect x="867" y="743" width="1" height="13" fill="#c0c0c0"/><rect x="871" y="743" width="1" height="14" fill="#c0c0c0"/><rect x="875" y="743" width="1" height="14" fill="#c0c0c0"/><rect x="879" y="743" width="1" height="15" fill="#c0c0c0"/><rect x="883" y="743" width="1" height="15" fill="#c0c0c0"/><rect x="887" y="743" width="1" height="20" fill="#c0c0c0"/><rect x="891" y="743" width="1" height="22" fill="#c0c0c0"/><rect x="895" y="743" width="1" height="21" fill="#c0c0c0"/><rect x="899" y="743" width="1" height="20" fill="#c0c0c0"/><rect x="903" y="743" width="1" height="20" fill="#c0c0c0"/><rect x="907" y="743" width="1" height="22" fill="#c0c0c0"/><rect x="911" y="743" width="1" height="23" fill="#c0c0c0"/><rect x="915" y="743" width="1" height="23" fill="#c0c0c0"/><rect x="919" y="743" width="1" height="23" fill="#c0c0c0"/><rect x="923" y="743" width="1" height="23" fill="#c0c0c0"/><rect x="927" y="743" width="1" height="23" fill="#c0c0c0"/><rect x="931" y="743" width="1" height="26" fill="#c0c0c0"/><rect x="935" y="743" width="1" height="27" fill="#c0c0c0"/><rect x="939" y="743" width="1" height="28" fill="#c0c0c0"/><rect x="943" y="743" width="1" height="27" fill="#c0c0c0"/><rect x="947" y="743" width="1" height="26" fill="#c0c0c0"/><rect x="951" y="743" width="1" height="26" fill="#c0c0c0"/><rect x="955" y="743" width="1" height="26" fill="#c0c0c0"/><rect x="959" y="743" width="1" height="28" fill="#c0c0c0"/><rect x="963" y="743" width="1" height="29" fill="#c0c0c0"/><rect x="967" y="743" width="1" height="32" fill="#c0c0c0"/><rect x="971" y="743" width="1" height="33" fill="#c0c0c0"/><rect x="975" y="743" width="1" height="35" fill="#c0c0c0"/><rect x="979" y="743" width="1" height="38" fill="#c0c0c0"/><rect x="983" y="743" width="1" height="40" fill="#c0c0c0"/><rect x="987" y="743" width="1" height="39" fill="#c0c0c0"/><rect x="991" y="743" width="1" height="39" fill="#c0c0c0"/><rect x="995" y="743" width="1" height="39" fill="#c0c0c0"/><rect x="999" y="743" width="1" height="39" fill="#c0c0c0"/><rect x="1003" y="743" width="1" height="36" fill="#c0c0c0"/><rect x="1007" y="743" width="1" height="36" fill="#c0c0c0"/><rect x="1011" y="743" width="1" height="35" fill="#c0c0c0"/><rect x="1015" y="743" width="1" height="34" fill="#c0c0c0"/><rect x="1019" y="743" width="1" height="32" fill="#c0c0c0"/><rect x="1023" y="743" width="1" height="34" fill="#c0c0c0"/><rect x="1027" y="743" width="1" height="37" fill="#c0c0c0"/><rect x="1031" y="743" width="1" height="41" fill="#c0c0c0"/><rect x="1035" y="743" width="1" height="43" fill="#c0c0c0"/><rect x="1039" y="743" width="1" height="44" fill="#c0c0c0"/><rect x="1043" y="743" width="1" height="43" fill="#c0c0c0"/><rect x="1047" y="743" width="1" height="39" fill="#c0c0c0"/><rect x="1051" y="743" width="1" height="38" fill="#c0c0c0"/><rect x="1055" y="743" width="1" height="33" fill="#c0c0c0"/><rect x="1059" y="743" width="1" height="28" fill="#c0c0c0"/><rect x="1063" y="743" width="1" height="23" fill="#c0c0c0"/><rect x="1067" y="743" width="1" height="19" fill="#c0c0c0"/><rect x="1071" y="743" width="1" height="18" fill="#c0c0c0"/><rect x="1075" y="743" width="1" height="16" fill="#c0c0c0"/><rect x="1079" y="743" width="1" height="17" fill="#c0c0c0"/><rect x="1083" y="743" width="1" height="22" fill="#c0c0c0"/><rect x="1087" y="743" width="1" height="24" fill="#c0c0c0"/><rect x="1091" y="743" width="1" height="26" fill="#c0c0c0"/><rect x="1095" y="743" width="1" height="30" fill="#c0c0c0"/><rect x="1099" y="743" width="1" height="32" fill="#c0c0c0"/><rect x="1103" y="743" width="1" height="33" fill="#c0c0c0"/><rect x="1107" y="743" width="1" height="33" fill="#c0c0c0"/><rect x="1111" y="743" width="1" height="38" fill="#c0c0c0"/><rect x="1115" y="743" width="1" height="41" fill="#c0c0c0"/><rect x="1119" y="743" width="1" height="37" fill="#c0c0c0"/><rect x="1123" y="743" width="1" height="35" fill="#c0c0c0"/><rect x="1127" y="743" width="1" height="35" fill="#c0c0c0"/><rect x="1131" y="743" width="1" height="34" fill="#c0c0c0"/><rect x="1135" y="743" width="1" height="35" fill="#c0c0c0"/><rect x="1139" y="743" width="1" height="35" fill="#c0c0c0"/><rect x="1143" y="743" width="1" height="37" fill="#c0c0c0"/><rect x="1147" y="743" width="1" height="39" fill="#c0c0c0"/><rect x="1151" y="743" width="1" height="43" fill="#c0c0c0"/><rect x="1155" y="743" width="1" height="42" fill="#c0c0c0"/><rect x="1159" y="743" width="1" height="41" fill="#c0c0c0"/><rect x="1163" y="743" width="1" height="40" fill="#c0c0c0"/><rect x="1167" y="743" width="1" height="35" fill="#c0c0c0"/><rect x="1171" y="743" width="1" height="31" fill="#c0c0c0"/><rect x="1175" y="743" width="1" height="25" fill="#c0c0c0"/><rect x="1179" y="743" width="1" height="21" fill="#c0c0c0"/><rect x="1183" y="743" width="1" height="20" fill="#c0c0c0"/><rect x="1187" y="743" width="1" height="19" fill="#c0c0c0"/><rect x="1191" y="743" width="1" height="18" fill="#c0c0c0"/><rect x="1195" y="743" width="1" height="19" fill="#c0c0c0"/><rect x="1199" y="743" width="1" height="22" fill="#c0c0c0"/><rect x="1203" y="743" width="1" height="28" fill="#c0c0c0"/><rect x="1207" y="743" width="1" height="33" fill="#c0c0c0"/><rect x="1211" y="743" width="1" height="38" fill="#c0c0c0"/><rect x="1215" y="743" width="1" height="37" fill="#c0c0c0"/><rect x="1219" y="743" width="1" height="38" fill="#c0c0c0"/><rect x="1223" y="743" width="1" height="37" fill="#c0c0c0"/><rect x="1227" y="743" width="1" height="38" fill="#c0c0c0"/><rect x="1231" y="743" width="1" height="37" fill="#c0c0c0"/><rect x="1235" y="743" width="1" height="37" fill="#c0c0c0"/><rect x="1239" y="743" width="1" height="39" fill="#c0c0c0"/><rect x="1243" y="743" width="1" height="42" fill="#c0c0c0"/><rect x="1247" y="743" width="1" height="43" fill="#c0c0c0"/><rect x="1251" y="743" width="1" height="42" fill="#c0c0c0"/><rect x="1255" y="743" width="1" height="42" fill="#c0c0c0"/><rect x="1259" y="743" width="1" height="43" fill="#c0c0c0"/><rect x="1263" y="743" width="1" height="39" fill="#c0c0c0"/><rect x="1267" y="743" width="1" height="37" fill="#c0c0c0"/></g><polyline clip-path="url(#cd)" points="3.5,760.1 7.5,758.0 11.5,756.1 15.5,754.2 19.5,752.6 23.5,751.0 27.5,749.6 31.5,748.4 35.5,747.6 39.5,746.7 43.5,745.6 47.5,744.7 51.5,743.9 55.5,743.0 59.5,742.4 63.5,741.8 67.5,741.4 71.5,741.0 75.5,741.5 79.5,742.5 83.5,743.7 87.5,745.2 91.5,746.8 95.5,748.2 99.5,749.6 103.5,751.0 107.5,752.3 111.5,752.8 115.5,753.3 119.5,753.5 123.5,753.5 127.5,753.4 131.5,753.3 135.5,753.4 139.5,753.7 143.5,754.2 147.5,755.0 151.5,756.0 155.5,757.0 159.5,757.8 163.5,758.7 167.5,759.8 171.5,761.0 175.5,762.2 179.5,763.4 183.5,764.9 187.5,766.6 191.5,768.4 195.5,770.6 199.5,772.7 203.5,774.9 207.5,776.8 211.5,778.0 215.5,778.5 219.5,778.0 223.5,776.7 227.5,774.8 231.5,771.9 235.5,768.1 239.5,763.8 243.5,758.8 247.5,753.8 251.5,748.8 255.5,744.1 259.5,739.7 263.5,735.9 267.5,733.2 271.5,730.8 275.5,728.6 279.5,727.2 283.5,726.7 287.5,726.6 291.5,727.1 295.5,727.7 299.5,728.0 303.5,728.4 307.5,728.9 311.5,729.4 315.5,729.5 319.5,728.9 323.5,728.0 327.5,727.0 331.5,726.1 335.5,725.3 339.5,724.6 343.5,724.3 347.5,724.6 351.5,725.9 355.5,728.2 359.5,731.3 363.5,734.8 367.5,738.5 371.5,742.5 375.5,746.2 379.5,749.3 383.5,751.9 387.5,753.1 391.5,752.9 395.5,751.5 399.5,749.7 403.5,747.2 407.5,743.7 411.5,738.9 415.5,733.5 419.5,727.5 423.5,722.1 427.5,717.5 431.5,713.2 435.5,709.2 439.5,705.6 443.5,703.2 447.5,702.0 451.5,702.0 455.5,702.7 459.5,704.1 463.5,705.3 467.5,707.0 471.5,708.5 475.5,710.5 479.5,712.7 483.5,715.4 487.5,718.3 491.5,721.5 495.5,724.6 499.5,728.0 503.5,731.2 507.5,734.0 511.5,736.1 515.5,737.7 519.5,738.8 523.5,739.1 527.5,738.9 531.5,738.4 535.5,737.6 539.5,736.9 543.5,736.2 547.5,735.8 551.5,735.5 555.5,735.4 559.5,735.1 563.5,734.5 567.5,733.7 571.5,732.8 575.5,731.9 579.5,731.3 583.5,730.9 587.5,730.5 591.5,730.0 595.5,730.1 599.5,730.6 603.5,731.3 607.5,731.8 611.5,732.3 615.5,732.6 619.5,732.7 623.5,732.8 627.5,732.8 631.5,732.4 635.5,731.8 639.5,731.3 643.5,730.8 647.5,730.0 651.5,729.1 655.5,728.0 659.5,726.8 663.5,725.9 667.5,725.9 671.5,726.3 675.5,727.1 679.5,728.7 683.5,731.4 687.5,734.6 691.5,738.1 695.5,742.0 699.5,745.7 703.5,748.9 707.5,751.8 711.5,754.2 715.5,755.8 719.5,756.8 723.5,757.2 727.5,757.4 731.5,757.1 735.5,756.9 739.5,756.8 743.5,756.6 747.5,756.3 751.5,755.9 755.5,755.4 759.5,754.9 763.5,754.4 767.5,754.0 771.5,753.4 775.5,752.7 779.5,752.2 783.5,752.3 787.5,753.0 791.5,754.3 795.5,756.1 799.5,758.0 803.5,759.8 807.5,761.8 811.5,763.8 815.5,765.9 819.5,767.6 823.5,768.8 827.5,769.7 831.5,770.1 835.5,770.4 839.5,770.4 843.5,770.0 847.5,769.3 851.5,768.0 855.5,766.6 859.5,765.2 863.5,763.7 867.5,762.1 871.5,760.5 875.5,759.3 879.5,758.3 883.5,757.9 887.5,758.3 891.5,758.9 895.5,759.5 899.5,760.1 903.5,761.0 907.5,761.8 911.5,762.8 915.5,763.7 919.5,764.6 923.5,764.9 927.5,765.1 931.5,765.6 935.5,766.4 939.5,767.2 943.5,767.8 947.5,768.1 951.5,768.4 955.5,768.7 959.5,769.2 963.5,769.8 967.5,770.4 971.5,771.2 975.5,772.0 979.5,773.3 983.5,774.9 987.5,776.4 991.5,777.8 995.5,779.1 999.5,780.2 1003.5,780.7 1007.5,781.0 1011.5,780.9 1015.5,780.4 1019.5,779.6 1023.5,778.9 1027.5,778.7 1031.5,779.0 1035.5,779.5 1039.5,780.3 1043.5,781.1 1047.5,781.5 1051.5,782.0 1055.5,782.1 1059.5,781.4 1063.5,779.8 1067.5,777.4 1071.5,774.5 1075.5,771.4 1079.5,768.5 1083.5,766.6 1087.5,765.1 1091.5,764.3 1095.5,764.7 1099.5,765.7 1103.5,767.3 1107.5,769.0 1111.5,771.4 1115.5,774.1 1119.5,775.8 1123.5,776.9 1127.5,777.9 1131.5,778.3 1135.5,778.7 1139.5,778.9 1143.5,779.3 1147.5,779.5 1151.5,779.7 1155.5,780.2 1159.5,780.9 1163.5,781.5 1167.5,781.7 1171.5,781.2 1175.5,780.1 1179.5,778.3 1183.5,776.2 1187.5,773.6 1191.5,771.0 1195.5,768.5 1199.5,766.5 1203.5,765.6 1207.5,765.8 1211.5,767.2 1215.5,769.0 1219.5,771.0 1223.5,773.0 1227.5,775.1 1231.5,777.2 1235.5,778.8 1239.5,780.0 1243.5,781.0 1247.5,781.6 1251.5,782.2 1255.5,782.6 1259.5,783.2 1263.5,783.4 1267.5,783.5" fill="none" stroke="#ff0000" stroke-width="1" stroke-dasharray="3 3.5" stroke-linejoin="round"/><g shape-rendering="crispEdges" fill="#000"><rect x="2" y="29" width="1594" height="1" fill="#000"/><rect x="2" y="585" width="1594" height="1" fill="#000"/><rect x="2" y="29" width="1" height="557" fill="#000"/><rect x="1595" y="29" width="1" height="557" fill="#000"/><rect x="2" y="587" width="1594" height="1" fill="#000"/><rect x="2" y="689" width="1594" height="1" fill="#000"/><rect x="2" y="587" width="1" height="103" fill="#000"/><rect x="1595" y="587" width="1" height="103" fill="#000"/><rect x="2" y="691" width="1594" height="1" fill="#000"/><rect x="2" y="792" width="1594" height="1" fill="#000"/><rect x="2" y="691" width="1" height="102" fill="#000"/><rect x="1595" y="691" width="1" height="102" fill="#000"/><rect x="1596" y="54" width="3" height="1" fill="#000"/><rect x="1596" y="87" width="3" height="1" fill="#000"/><rect x="1596" y="120" width="3" height="1" fill="#000"/><rect x="1596" y="153" width="3" height="1" fill="#000"/><rect x="1596" y="186" width="3" height="1" fill="#000"/><rect x="1596" y="219" width="3" height="1" fill="#000"/><rect x="1596" y="252" width="3" height="1" fill="#000"/><rect x="1596" y="285" width="3" height="1" fill="#000"/><rect x="1596" y="318" width="3" height="1" fill="#000"/><rect x="1596" y="351" width="3" height="1" fill="#000"/><rect x="1596" y="384" width="3" height="1" fill="#000"/><rect x="1596" y="417" width="3" height="1" fill="#000"/><rect x="1596" y="450" width="3" height="1" fill="#000"/><rect x="1596" y="483" width="3" height="1" fill="#000"/><rect x="1596" y="516" width="3" height="1" fill="#000"/><rect x="1596" y="549" width="3" height="1" fill="#000"/><rect x="1596" y="582" width="3" height="1" fill="#000"/><rect x="3" y="793" width="1" height="3" fill="#000"/><rect x="67" y="793" width="1" height="3" fill="#000"/><rect x="131" y="793" width="1" height="3" fill="#000"/><rect x="195" y="793" width="1" height="3" fill="#000"/><rect x="259" y="793" width="1" height="3" fill="#000"/><rect x="323" y="793" width="1" height="3" fill="#000"/><rect x="387" y="793" width="1" height="3" fill="#000"/><rect x="451" y="793" width="1" height="3" fill="#000"/><rect x="515" y="793" width="1" height="3" fill="#000"/><rect x="579" y="793" width="1" height="3" fill="#000"/><rect x="643" y="793" width="1" height="3" fill="#000"/><rect x="707" y="793" width="1" height="3" fill="#000"/><rect x="771" y="793" width="1" height="3" fill="#000"/><rect x="835" y="793" width="1" height="3" fill="#000"/><rect x="899" y="793" width="1" height="3" fill="#000"/><rect x="963" y="793" width="1" height="3" fill="#000"/><rect x="1027" y="793" width="1" height="3" fill="#000"/><rect x="1091" y="793" width="1" height="3" fill="#000"/><rect x="1155" y="793" width="1" height="3" fill="#000"/><rect x="1219" y="793" width="1" height="3" fill="#000"/></g><g shape-rendering="crispEdges"><rect x="1589" y="205" width="6" height="6" fill="#ff0000"/><rect x="1591" y="207" width="2" height="2" fill="#fff"/><rect x="2" y="205" width="6" height="6" fill="#ff0000"/><rect x="4" y="207" width="2" height="2" fill="#fff"/><rect x="1589" y="296" width="6" height="6" fill="#00ff00"/><rect x="1591" y="298" width="2" height="2" fill="#fff"/><rect x="2" y="296" width="6" height="6" fill="#00ff00"/><rect x="4" y="298" width="2" height="2" fill="#fff"/><rect x="1589" y="494" width="6" height="6" fill="#0000ff"/><rect x="1591" y="496" width="2" height="2" fill="#fff"/><rect x="2" y="494" width="6" height="6" fill="#0000ff"/><rect x="4" y="496" width="2" height="2" fill="#fff"/><polygon points="1271,30 1280,30 1275.5,35" fill="#c0c0c0"/></g></svg>
<div class="t" style="left:1601px;top:50px;font-size:9.5px;color:#000;letter-spacing:-0.25px;">7.19825</div>
<div class="t" style="left:1601px;top:83px;font-size:9.5px;color:#000;letter-spacing:-0.25px;">7.15575</div>
<div class="t" style="left:1601px;top:116px;font-size:9.5px;color:#000;letter-spacing:-0.25px;">7.11325</div>
<div class="t" style="left:1601px;top:149px;font-size:9.5px;color:#000;letter-spacing:-0.25px;">7.07075</div>
<div class="t" style="left:1601px;top:182px;font-size:9.5px;color:#000;letter-spacing:-0.25px;">7.02825</div>
<div class="t" style="left:1601px;top:215px;font-size:9.5px;color:#000;letter-spacing:-0.25px;">6.98575</div>
<div class="t" style="left:1601px;top:248px;font-size:9.5px;color:#000;letter-spacing:-0.25px;">6.94325</div>
<div class="t" style="left:1601px;top:281px;font-size:9.5px;color:#000;letter-spacing:-0.25px;">6.90075</div>
<div class="t" style="left:1601px;top:314px;font-size:9.5px;color:#000;letter-spacing:-0.25px;">6.85825</div>
<div class="t" style="left:1601px;top:347px;font-size:9.5px;color:#000;letter-spacing:-0.25px;">6.81575</div>
<div class="t" style="left:1601px;top:380px;font-size:9.5px;color:#000;letter-spacing:-0.25px;">6.77325</div>
<div class="t" style="left:1601px;top:413px;font-size:9.5px;color:#000;letter-spacing:-0.25px;">6.73075</div>
<div class="t" style="left:1601px;top:446px;font-size:9.5px;color:#000;letter-spacing:-0.25px;">6.68825</div>
<div class="t" style="left:1601px;top:479px;font-size:9.5px;color:#000;letter-spacing:-0.25px;">6.64575</div>
<div class="t" style="left:1601px;top:512px;font-size:9.5px;color:#000;letter-spacing:-0.25px;">6.60325</div>
<div class="t" style="left:1601px;top:545px;font-size:9.5px;color:#000;letter-spacing:-0.25px;">6.56075</div>
<div class="t" style="left:1601px;top:578px;font-size:9.5px;color:#000;letter-spacing:-0.25px;">6.51825</div>
<div class="abs" style="left:1597px;top:45px;width:38px;height:11px;background:#ff0000"></div>
<div class="t" style="left:1601px;top:46px;font-size:9.5px;color:#fff;letter-spacing:-0.25px;">7.20193</div>
<div class="abs" style="left:1597px;top:124px;width:38px;height:11px;background:#ff0000"></div>
<div class="t" style="left:1601px;top:125px;font-size:9.5px;color:#fff;letter-spacing:-0.25px;">7.10011</div>
<div class="abs" style="left:1597px;top:202px;width:38px;height:11px;background:#ff0000"></div>
<div class="t" style="left:1601px;top:203px;font-size:9.5px;color:#fff;letter-spacing:-0.25px;">7.00029</div>
<div class="abs" style="left:1597px;top:293px;width:38px;height:11px;background:#00ff00"></div>
<div class="t" style="left:1601px;top:294px;font-size:9.5px;color:#fff;letter-spacing:-0.25px;">6.88250</div>
<div class="abs" style="left:1597px;top:387px;width:38px;height:11px;background:#0000ff"></div>
<div class="t" style="left:1601px;top:388px;font-size:9.5px;color:#fff;letter-spacing:-0.25px;">6.76171</div>
<div class="abs" style="left:1597px;top:491px;width:38px;height:11px;background:#0000ff"></div>
<div class="t" style="left:1601px;top:492px;font-size:9.5px;color:#fff;letter-spacing:-0.25px;">6.62682</div>
<div class="abs" style="left:1597px;top:534px;width:38px;height:11px;background:#000"></div>
<div class="t" style="left:1601px;top:535px;font-size:9.5px;color:#fff;letter-spacing:-0.25px;">6.57356</div>
<div class="t" style="left:1599px;top:590px;font-size:9.5px;color:#000;letter-spacing:-0.25px;">100</div>
<div class="t" style="left:1599px;top:614px;font-size:9.5px;color:#000;letter-spacing:-0.25px;">70</div>
<div class="t" style="left:1599px;top:654px;font-size:9.5px;color:#000;letter-spacing:-0.25px;">30</div>
<div class="t" style="left:1599px;top:678px;font-size:9.5px;color:#000;letter-spacing:-0.25px;">0</div>
<div class="t" style="left:1599px;top:694px;font-size:9.5px;color:#000;letter-spacing:-0.25px;">0.042275</div>
<div class="t" style="left:1599px;top:738px;font-size:9.5px;color:#000;letter-spacing:-0.25px;">0.00</div>
<div class="t" style="left:1599px;top:781px;font-size:9.5px;color:#000;letter-spacing:-0.25px;">-0.041483</div>
<div class="t" style="left:18px;top:32.5px;font-size:9.5px;color:#000;">USDCNH,Daily</div>
<div class="t" style="left:89.5px;top:32.5px;font-size:9.5px;color:#000;letter-spacing:-0.15px;">6.58419 6.58729 6.57000 6.57356</div>
<div class="abs" style="left:6px;top:36px;width:0;height:0;border-left:3.6px solid transparent;border-right:3.6px solid transparent;border-bottom:4px solid #000"></div>
<div class="t" style="left:7px;top:592px;font-size:9.5px;color:#000;">RSI(14) 40.3021</div>
<div class="t" style="left:7px;top:696px;font-size:9.5px;color:#000;">MACD(12,26,9) -0.032386 -0.034992</div>
<div class="t" style="left:2px;top:797px;font-size:9.7px;color:#000;">21 Nov 2019</div>
<div class="t" style="left:66px;top:797px;font-size:9.7px;color:#000;">10 Dec 2019</div>
<div class="t" style="left:130px;top:797px;font-size:9.7px;color:#000;">28 Dec 2019</div>
<div class="t" style="left:194px;top:797px;font-size:9.7px;color:#000;">16 Jan 2020</div>
<div class="t" style="left:258px;top:797px;font-size:9.7px;color:#000;">4 Feb 2020</div>
<div class="t" style="left:322px;top:797px;font-size:9.7px;color:#000;">22 Feb 2020</div>
<div class="t" style="left:386px;top:797px;font-size:9.7px;color:#000;">12 Mar 2020</div>
<div class="t" style="left:450px;top:797px;font-size:9.7px;color:#000;">31 Mar 2020</div>
<div class="t" style="left:514px;top:797px;font-size:9.7px;color:#000;">18 Apr 2020</div>
<div class="t" style="left:578px;top:797px;font-size:9.7px;color:#000;">7 May 2020</div>
<div class="t" style="left:642px;top:797px;font-size:9.7px;color:#000;">26 May 2020</div>
<div class="t" style="left:706px;top:797px;font-size:9.7px;color:#000;">13 Jun 2020</div>
<div class="t" style="left:770px;top:797px;font-size:9.7px;color:#000;">2 Jul 2020</div>
<div class="t" style="left:834px;top:797px;font-size:9.7px;color:#000;">21 Jul 2020</div>
<div class="t" style="left:898px;top:797px;font-size:9.7px;color:#000;">8 Aug 2020</div>
<div class="t" style="left:962px;top:797px;font-size:9.7px;color:#000;">27 Aug 2020</div>
<div class="t" style="left:1026px;top:797px;font-size:9.7px;color:#000;">15 Sep 2020</div>
<div class="t" style="left:1090px;top:797px;font-size:9.7px;color:#000;">3 Oct 2020</div>
<div class="t" style="left:1154px;top:797px;font-size:9.7px;color:#000;">22 Oct 2020</div>
<div class="t" style="left:1218px;top:797px;font-size:9.7px;color:#000;">10 Nov 2020</div>
<div class="abs" style="left:0;top:24px;width:1635px;height:1px;background:#f7f7f7"></div><div class="abs" style="left:0;top:26px;width:1635px;height:1px;background:#6c6c6c"></div><div class="abs" style="left:27px;top:0;width:1px;height:25px;background:#a0a0a0"></div><div class="abs" style="left:28px;top:0;width:1px;height:25px;background:#ffffff"></div><div class="abs" style="left:288px;top:0;width:1px;height:25px;background:#a0a0a0"></div><div class="abs" style="left:289px;top:0;width:1px;height:25px;background:#ffffff"></div><div class="abs" style="left:31px;top:3px;width:3px;height:20px;background:repeating-linear-gradient(to bottom,#a8a8a8 0,#a8a8a8 1px,#f0f0f0 1px,#f0f0f0 2px)"></div><svg class="abs" style="left:0;top:0" width="26" height="25" viewBox="0 0 26 25"><path d="M0 9 L3.6 13" stroke="#404040" stroke-width="1.6" fill="none"/><polygon points="1.8,15.6 5.4,14.4 9.2,16.4 5.4,20.2" fill="#404040"/><polygon points="15.6,12 21.2,12 18.4,15.2" fill="#000"/></svg><div class="abs" style="left:205px;top:1px;width:24px;height:21px;box-sizing:content-box;background:#f8f8f8;border-left:1px solid #909090;border-top:1px solid #909090;border-right:1px solid #fff;border-bottom:1px solid #fff"></div><div class="t" style="left:29px;width:40px;text-align:center;top:8px;font-size:9.6px;color:#484848">M1</div><div class="t" style="left:57px;width:40px;text-align:center;top:8px;font-size:9.6px;color:#484848">M5</div><div class="t" style="left:85px;width:40px;text-align:center;top:8px;font-size:9.6px;color:#484848">M15</div><div class="t" style="left:113px;width:40px;text-align:center;top:8px;font-size:9.6px;color:#484848">M30</div><div class="t" style="left:141px;width:40px;text-align:center;top:8px;font-size:9.6px;color:#484848">H1</div><div class="t" style="left:169px;width:40px;text-align:center;top:8px;font-size:9.6px;color:#484848">H4</div><div class="t" style="left:197.5px;width:40px;text-align:center;top:8px;font-size:9.6px;color:#484848">D1</div><div class="t" style="left:226px;width:40px;text-align:center;top:8px;font-size:9.6px;color:#484848">W1</div><div class="t" style="left:253px;width:40px;text-align:center;top:8px;font-size:9.6px;color:#484848">MN</div>
<div class="abs" style="left:4px;top:47px;width:223px;height:68px;background:#fff"></div><div class="abs" style="left:6px;top:49px;width:52px;height:24px;background:linear-gradient(to bottom,#f85252 0%,#ee4444 45%,#de3232 100%);box-shadow:inset 1px 1px 0 #d02020"></div><div class="abs" style="left:173px;top:49px;width:52px;height:24px;background:linear-gradient(to bottom,#f85252 0%,#ee4444 45%,#de3232 100%);box-shadow:inset -1px 1px 0 #d02020"></div><div class="abs" style="left:6px;top:73px;width:109px;height:40px;background:linear-gradient(to bottom,#dc3030 0%,#cc1c1c 50%,#b00000 100%)"></div><div class="abs" style="left:117px;top:73px;width:108px;height:40px;background:linear-gradient(to bottom,#dc3030 0%,#cc1c1c 50%,#b00000 100%)"></div><div class="abs" style="left:10px;top:72px;width:44px;height:1px;background:#9a1010"></div><div class="abs" style="left:10px;top:73px;width:44px;height:1px;background:#ee6a6a"></div><div class="abs" style="left:177px;top:72px;width:44px;height:1px;background:#9a1010"></div><div class="abs" style="left:177px;top:73px;width:44px;height:1px;background:#ee6a6a"></div><div class="abs" style="left:60px;top:49px;width:111px;height:21px;box-sizing:border-box;border:1px solid #a9a9b2;background:#fff"></div><div class="abs" style="left:61px;top:50px;width:20px;height:19px;background:linear-gradient(to bottom,#f4f4f4 0%,#e2e2e2 45%,#c6c6c6 100%);border-right:1px solid #a9a9b2"></div><div class="abs" style="left:149px;top:50px;width:21px;height:19px;background:linear-gradient(to bottom,#f4f4f4 0%,#e2e2e2 45%,#c6c6c6 100%);border-left:1px solid #a9a9b2;box-sizing:border-box"></div><svg class="abs" style="left:60px;top:49px" width="111" height="21" viewBox="0 0 111 21"><polygon points="8,9.3 13,9.3 10.5,12.3" fill="#4a58b8"/><polygon points="97,12.3 102,12.3 99.5,9.3" fill="#4a58b8"/></svg><div class="t" style="left:86px;width:60px;text-align:right;top:54px;font-size:12.5px;color:#000">0.02</div><div class="t" style="left:5px;width:52px;text-align:center;top:55px;font-size:12.5px;color:#fff;transform:scaleX(0.88)">SELL</div><div class="t" style="left:171.5px;width:52px;text-align:center;top:55px;font-size:12.5px;color:#fff;letter-spacing:-0.7px">BUY</div><div class="t" style="left:25.5px;top:93.8px;font-size:12.3px;font-weight:bold;color:#fff">6.57</div><div class="t" style="left:53.5px;top:73.8px;font-size:35px;color:#fff;transform-origin:0 0;transform:scaleX(0.95);letter-spacing:-1px">35</div><div class="t" style="left:93px;top:78.5px;font-size:11px;font-weight:bold;color:#fff">9</div><div class="t" style="left:135.5px;top:93.8px;font-size:12.3px;font-weight:bold;color:#fff">6.57</div><div class="t" style="left:163.5px;top:73.8px;font-size:35px;color:#fff;transform-origin:0 0;transform:scaleX(0.95);letter-spacing:-1px">56</div><div class="t" style="left:203px;top:78.5px;font-size:11px;font-weight:bold;color:#fff">9</div>
<div class="abs" style="left:0;top:813px;width:1635px;height:1px;background:#e4e4e4"></div><div class="abs" style="left:0;top:814px;width:1635px;height:1px;background:#f8f8f8"></div><div class="abs" style="left:0;top:815px;width:1635px;height:1px;background:#202020"></div><div class="abs" style="left:0;top:816px;width:1635px;height:20px;background:#f0f0f0"></div><div class="abs" style="left:0;top:836px;width:1635px;height:1px;background:#fdfdfd"></div><div class="abs" style="left:0;top:837px;width:1635px;height:2px;background:#f0f0f0"></div><div class="abs" style="left:0;top:839px;width:1635px;height:1px;background:#d4d4d4"></div><div class="abs" style="left:0;top:840px;width:1635px;height:1px;background:#ececec"></div><div class="abs" style="left:417px;top:814px;width:102px;height:2px;background:#fff"></div><div class="abs" style="left:416px;top:815px;width:104px;height:19px;box-sizing:border-box;background:#fff;border-left:1px solid #000;border-right:1px solid #000;border-bottom:1px solid #000"></div><div class="abs" style="left:417px;top:832px;width:102px;height:1px;background:#9a9a9a"></div><div class="abs" style="left:108px;top:819px;width:1px;height:14px;background:#707070"></div><div class="abs" style="left:208px;top:819px;width:1px;height:14px;background:#707070"></div><div class="abs" style="left:312px;top:819px;width:1px;height:14px;background:#707070"></div><div class="abs" style="left:624px;top:819px;width:1px;height:14px;background:#707070"></div><div class="abs" style="left:716px;top:819px;width:1px;height:14px;background:#707070"></div><div class="abs" style="left:820px;top:819px;width:1px;height:14px;background:#707070"></div><div class="abs" style="left:892px;top:819px;width:1px;height:14px;background:#707070"></div><div class="abs" style="left:972px;top:819px;width:1px;height:14px;background:#707070"></div><div class="abs" style="left:1052px;top:819px;width:1px;height:14px;background:#707070"></div><div class="abs" style="left:1132px;top:819px;width:1px;height:14px;background:#707070"></div><div class="abs" style="left:1208px;top:819px;width:1px;height:14px;background:#707070"></div><div class="abs" style="left:1280px;top:819px;width:1px;height:14px;background:#707070"></div><div class="abs" style="left:1364px;top:819px;width:1px;height:14px;background:#707070"></div><div class="abs" style="left:1444px;top:819px;width:1px;height:14px;background:#707070"></div><div class="abs" style="left:1544px;top:819px;width:1px;height:14px;background:#707070"></div><div class="t" style="left:15px;top:820px;font-size:12.4px;color:#5a5a5a;transform-origin:0 0;transform:scaleX(0.978);">EURUSD,Daily</div><div class="t" style="left:117px;top:820px;font-size:12.4px;color:#5a5a5a;transform-origin:0 0;transform:scaleX(0.99);">USDCHF,Daily</div><div class="t" style="left:218px;top:820px;font-size:12.4px;color:#5a5a5a;transform-origin:0 0;transform:scaleX(1.0);">AUDUSD,Daily</div><div class="t" style="left:322px;top:820px;font-size:12.4px;color:#5a5a5a;transform-origin:0 0;transform:scaleX(0.99);">USDCAD,Daily</div><div class="t" style="left:426px;top:820px;font-size:12.4px;color:#000;transform-origin:0 0;transform:scaleX(0.994);">USDCNH,Daily</div><div class="t" style="left:531px;top:820px;font-size:12.4px;color:#5a5a5a;transform-origin:0 0;transform:scaleX(0.978);">EURUSD,Daily</div><div class="t" style="left:635px;top:820px;font-size:12.4px;color:#5a5a5a;transform-origin:0 0;transform:scaleX(0.97);">GBPUSD,H4</div><div class="t" style="left:726px;top:820px;font-size:12.4px;color:#5a5a5a;transform-origin:0 0;transform:scaleX(1.0);">XAUUSD,Daily</div><div class="t" style="left:830px;top:820px;font-size:12.4px;color:#5a5a5a;transform-origin:0 0;transform:scaleX(1.0);">HK50,H1</div><div class="t" style="left:902px;top:820px;font-size:12.4px;color:#5a5a5a;transform-origin:0 0;transform:scaleX(1.0);">UK100,H1</div><div class="t" style="left:982px;top:820px;font-size:12.4px;color:#5a5a5a;transform-origin:0 0;transform:scaleX(1.0);">UK100,H1</div><div class="t" style="left:1062px;top:820px;font-size:12.4px;color:#5a5a5a;transform-origin:0 0;transform:scaleX(0.98);">GER30,H1</div><div class="t" style="left:1141px;top:820px;font-size:12.4px;color:#5a5a5a;transform-origin:0 0;transform:scaleX(0.965);">FRA40,H1</div><div class="t" style="left:1217px;top:820px;font-size:12.4px;color:#5a5a5a;transform-origin:0 0;transform:scaleX(1.0);">USOil,H4</div><div class="t" style="left:1289px;top:820px;font-size:12.4px;color:#5a5a5a;transform-origin:0 0;transform:scaleX(0.958);">USDJPY,H1</div><div class="t" style="left:1373px;top:820px;font-size:12.4px;color:#5a5a5a;transform-origin:0 0;transform:scaleX(1.0);">DJ30,Daily</div><div class="t" style="left:1453px;top:820px;font-size:12.4px;color:#5a5a5a;transform-origin:0 0;transform:scaleX(1.02);">CHINA300,H1</div><div class="t" style="left:1553px;top:820px;font-size:12.4px;color:#5a5a5a;transform-origin:0 0;transform:scaleX(1.0);width:52px;overflow:hidden;-webkit-mask-image:linear-gradient(to right,#000 82%,transparent 100%);mask-image:linear-gradient(to right,#000 82%,transparent 100%);">USOil,Da</div><svg class="abs" style="left:1606px;top:816px" width="29" height="20" viewBox="0 0 29 20"><polygon points="8,6.5 8,12.5 4.5,9.5" fill="#a0a0a0"/><polygon points="22.5,6.5 22.5,12.5 26,9.5" fill="#000"/></svg>
</body></html>
